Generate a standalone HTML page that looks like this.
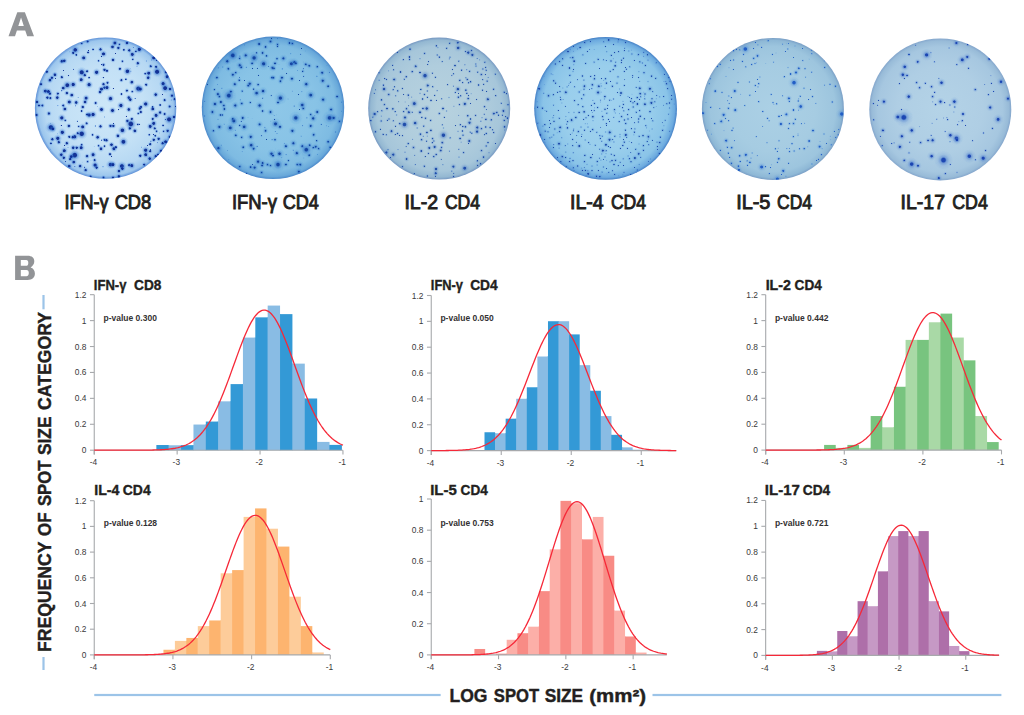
<!DOCTYPE html><html><head><meta charset="utf-8"><style>
html,body{margin:0;padding:0;background:#fff;width:1024px;height:715px;overflow:hidden}
svg{display:block}
text{font-family:"Liberation Sans", sans-serif}
.pl{font-size:33.5px;font-weight:bold;fill:#939598}
.wl{font-size:20.5px;font-weight:normal;fill:#231f20;stroke:#231f20;stroke-width:0.95px}
.ct{font-size:14px;font-weight:bold;fill:#231f20;stroke:#231f20;stroke-width:0.35px}
.pv{font-size:8.7px;font-weight:bold;fill:#333132}
.tk{font-size:8.4px;fill:#3a3a3a}
.al{font-size:17.6px;font-weight:bold;fill:#231f20;stroke:#231f20;stroke-width:0.4px}
</style></head><body><svg width="1024" height="715" viewBox="0 0 1024 715">
<defs><filter id="sb" x="-5%" y="-5%" width="110%" height="110%"><feGaussianBlur stdDeviation="0.3"/></filter><radialGradient id="wg0" cx="50%" cy="50%" r="50%"><stop offset="0" stop-color="#cce6f8"/><stop offset="0.55" stop-color="#c4e1f6"/><stop offset="0.85" stop-color="#b6d8f3"/><stop offset="0.96" stop-color="#9cc6ed"/><stop offset="1" stop-color="#5f92d8"/></radialGradient><radialGradient id="sp0"><stop offset="0" stop-color="#0a2a92" stop-opacity="0.97"/><stop offset="0.281" stop-color="#0a2a92" stop-opacity="0.95"/><stop offset="0.450" stop-color="#2f6fd0" stop-opacity="0.45"/><stop offset="0.730" stop-color="#2f6fd0" stop-opacity="0.12"/><stop offset="1" stop-color="#2f6fd0" stop-opacity="0"/></radialGradient><clipPath id="wc0"><circle cx="105.6" cy="108.1" r="70.7"/></clipPath><radialGradient id="wg1" cx="50%" cy="50%" r="50%"><stop offset="0" stop-color="#8ec7e8"/><stop offset="0.6" stop-color="#88c3e6"/><stop offset="0.88" stop-color="#7ebbe2"/><stop offset="0.965" stop-color="#68a8da"/><stop offset="1" stop-color="#4a88ca"/></radialGradient><radialGradient id="sp1"><stop offset="0" stop-color="#113f9f" stop-opacity="0.97"/><stop offset="0.170" stop-color="#113f9f" stop-opacity="0.95"/><stop offset="0.320" stop-color="#2a6fc8" stop-opacity="0.5"/><stop offset="0.600" stop-color="#2a6fc8" stop-opacity="0.12"/><stop offset="1" stop-color="#2a6fc8" stop-opacity="0"/></radialGradient><clipPath id="wc1"><circle cx="273.0" cy="107.8" r="71.2"/></clipPath><radialGradient id="wg2" cx="50%" cy="50%" r="50%"><stop offset="0" stop-color="#b7d2df"/><stop offset="0.6" stop-color="#b0cddd"/><stop offset="0.88" stop-color="#a6c6da"/><stop offset="0.965" stop-color="#94b8d2"/><stop offset="1" stop-color="#7698c2"/></radialGradient><radialGradient id="sp2"><stop offset="0" stop-color="#1a48a8" stop-opacity="0.97"/><stop offset="0.212" stop-color="#1a48a8" stop-opacity="0.95"/><stop offset="0.370" stop-color="#4a7cc8" stop-opacity="0.45"/><stop offset="0.650" stop-color="#4a7cc8" stop-opacity="0.12"/><stop offset="1" stop-color="#4a7cc8" stop-opacity="0"/></radialGradient><clipPath id="wc2"><circle cx="439.2" cy="108.6" r="71.0"/></clipPath><radialGradient id="wg3" cx="50%" cy="50%" r="50%"><stop offset="0" stop-color="#a0d2ef"/><stop offset="0.6" stop-color="#99ceec"/><stop offset="0.88" stop-color="#8ac4e8"/><stop offset="0.965" stop-color="#6caadf"/><stop offset="1" stop-color="#4480c6"/></radialGradient><radialGradient id="sp3"><stop offset="0" stop-color="#1a45a8" stop-opacity="0.97"/><stop offset="0.187" stop-color="#1a45a8" stop-opacity="0.95"/><stop offset="0.340" stop-color="#4a86d0" stop-opacity="0.45"/><stop offset="0.620" stop-color="#4a86d0" stop-opacity="0.12"/><stop offset="1" stop-color="#4a86d0" stop-opacity="0"/></radialGradient><clipPath id="wc3"><circle cx="605.6" cy="108.4" r="71.4"/></clipPath><radialGradient id="wg4" cx="50%" cy="50%" r="50%"><stop offset="0" stop-color="#abd0e5"/><stop offset="0.6" stop-color="#a6cce2"/><stop offset="0.88" stop-color="#9dc5de"/><stop offset="0.965" stop-color="#8eb8d6"/><stop offset="1" stop-color="#7a9fc6"/></radialGradient><radialGradient id="sp4"><stop offset="0" stop-color="#1d5ac4" stop-opacity="0.97"/><stop offset="0.212" stop-color="#1d5ac4" stop-opacity="0.95"/><stop offset="0.370" stop-color="#4c8ad8" stop-opacity="0.45"/><stop offset="0.650" stop-color="#4c8ad8" stop-opacity="0.12"/><stop offset="1" stop-color="#4c8ad8" stop-opacity="0"/></radialGradient><clipPath id="wc4"><circle cx="772.9" cy="108.9" r="71.0"/></clipPath><radialGradient id="wg5" cx="50%" cy="50%" r="50%"><stop offset="0" stop-color="#b4d3e7"/><stop offset="0.6" stop-color="#afcee4"/><stop offset="0.88" stop-color="#a6c7e0"/><stop offset="0.965" stop-color="#98bbd8"/><stop offset="1" stop-color="#84a6cc"/></radialGradient><radialGradient id="sp5"><stop offset="0" stop-color="#1640b0" stop-opacity="0.97"/><stop offset="0.187" stop-color="#1640b0" stop-opacity="0.95"/><stop offset="0.340" stop-color="#3f72cc" stop-opacity="0.45"/><stop offset="0.620" stop-color="#3f72cc" stop-opacity="0.12"/><stop offset="1" stop-color="#3f72cc" stop-opacity="0"/></radialGradient><clipPath id="wc5"><circle cx="940.3" cy="109.4" r="71.0"/></clipPath></defs>
<rect width="1024" height="715" fill="#ffffff"/>
<path fill="#929497" fill-rule="evenodd" d="M8.5 36.2L17.3 12.3H24.9L34 36.2H27.2L25.2 30.6H16.9L15 36.2ZM18.3 26H23.8L21.05 17.6Z"/>
<path fill="#929497" fill-rule="evenodd" d="M15.1 255.8H27.6C32 255.8 34.3 257.9 34.3 261.3C34.3 264 32.8 265.9 30.6 267.5C33.3 268.3 34.9 270.5 34.9 273.5C34.9 277.6 32.2 279.9 27.6 279.9H15.1ZM20.8 260.1H26.2C27.6 260.1 28.3 261.1 28.3 262.9C28.3 264.8 27.5 265.8 26 265.8H20.8ZM20.8 269.9H26.5C28 269.9 28.8 271.1 28.8 273C28.8 275 28 276.2 26.4 276.2H20.8Z"/>
<circle cx="105.6" cy="108.1" r="70.7" fill="url(#wg0)"/>
<g clip-path="url(#wc0)"><g filter="url(#sb)" fill="url(#sp0)"><circle cx="61.8" cy="90.8" r="1.2"/><circle cx="57.9" cy="105.7" r="1.0"/><circle cx="75.6" cy="105.9" r="1.0"/><circle cx="157.3" cy="142.8" r="0.9"/><circle cx="113.3" cy="88.5" r="1.0"/><circle cx="63.3" cy="70.5" r="0.8"/><circle cx="97.2" cy="106.6" r="0.7"/><circle cx="61.2" cy="125.5" r="1.1"/><circle cx="73.5" cy="69.2" r="0.9"/><circle cx="50.7" cy="123.2" r="0.8"/><circle cx="175.5" cy="106.2" r="1.1"/><circle cx="82.1" cy="162.1" r="0.8"/><circle cx="139.6" cy="124.2" r="1.1"/><circle cx="130.9" cy="71.7" r="0.9"/><circle cx="144.9" cy="52.0" r="0.7"/><circle cx="50.2" cy="149.7" r="0.7"/><circle cx="115.5" cy="53.5" r="0.8"/><circle cx="95.4" cy="126.0" r="1.2"/><circle cx="150.5" cy="149.3" r="0.8"/><circle cx="126.3" cy="116.3" r="1.1"/><circle cx="78.1" cy="97.4" r="0.9"/><circle cx="102.1" cy="77.7" r="0.8"/><circle cx="147.4" cy="145.6" r="0.9"/><circle cx="101.6" cy="140.1" r="1.2"/><circle cx="84.7" cy="167.2" r="1.1"/><circle cx="150.9" cy="141.2" r="1.2"/><circle cx="94.1" cy="146.6" r="0.7"/><circle cx="68.0" cy="147.3" r="0.9"/><circle cx="133.2" cy="47.4" r="0.8"/><circle cx="103.6" cy="77.7" r="1.2"/><circle cx="135.1" cy="98.5" r="1.1"/><circle cx="57.7" cy="133.9" r="0.8"/><circle cx="103.0" cy="166.8" r="1.1"/><circle cx="91.0" cy="160.2" r="0.8"/><circle cx="159.5" cy="133.0" r="0.8"/><circle cx="137.0" cy="66.2" r="1.0"/><circle cx="104.5" cy="117.0" r="0.9"/><circle cx="113.3" cy="123.5" r="0.9"/><circle cx="141.5" cy="147.1" r="0.9"/><circle cx="171.2" cy="100.0" r="1.0"/><circle cx="55.4" cy="78.7" r="0.8"/><circle cx="118.6" cy="109.6" r="1.2"/><circle cx="162.6" cy="94.5" r="0.7"/><circle cx="145.1" cy="107.9" r="0.7"/><circle cx="101.4" cy="56.5" r="1.2"/><circle cx="88.4" cy="50.5" r="1.1"/><circle cx="65.6" cy="161.8" r="1.0"/><circle cx="151.4" cy="60.0" r="0.9"/><circle cx="146.3" cy="61.0" r="1.0"/><circle cx="64.7" cy="145.4" r="1.0"/><circle cx="153.4" cy="134.5" r="1.0"/><circle cx="156.4" cy="60.3" r="1.1"/><circle cx="101.5" cy="64.7" r="1.0"/><circle cx="130.1" cy="68.6" r="0.7"/><circle cx="165.2" cy="119.4" r="1.0"/><circle cx="111.6" cy="156.3" r="1.0"/><circle cx="68.5" cy="75.6" r="1.2"/><circle cx="69.9" cy="51.9" r="0.9"/><circle cx="74.9" cy="166.6" r="1.0"/><circle cx="77.3" cy="121.2" r="1.1"/><circle cx="75.2" cy="49.9" r="4.8"/><circle cx="73.2" cy="52.9" r="2.6"/><circle cx="76.2" cy="54.9" r="2.1"/><circle cx="87.6" cy="41.5" r="2.6"/><circle cx="81.7" cy="43.5" r="2.1"/><circle cx="100.5" cy="49.4" r="3.0"/><circle cx="103.5" cy="53.9" r="3.9"/><circle cx="93.1" cy="49.4" r="1.9"/><circle cx="88.1" cy="52.4" r="2.1"/><circle cx="83.7" cy="57.9" r="3.9"/><circle cx="98.6" cy="60.8" r="1.9"/><circle cx="61.8" cy="61.3" r="3.4"/><circle cx="64.3" cy="60.8" r="3.4"/><circle cx="103.5" cy="64.8" r="2.6"/><circle cx="81.7" cy="72.3" r="5.6"/><circle cx="84.7" cy="75.2" r="3.0"/><circle cx="87.1" cy="71.3" r="2.6"/><circle cx="96.6" cy="72.3" r="4.3"/><circle cx="104.5" cy="69.8" r="3.0"/><circle cx="54.9" cy="74.7" r="3.4"/><circle cx="51.9" cy="77.7" r="3.0"/><circle cx="49.9" cy="80.2" r="3.4"/><circle cx="46.9" cy="71.8" r="2.6"/><circle cx="61.8" cy="77.2" r="2.6"/><circle cx="81.2" cy="79.7" r="3.9"/><circle cx="89.1" cy="77.7" r="1.9"/><circle cx="67.3" cy="85.2" r="5.2"/><circle cx="73.2" cy="84.5" r="4.3"/><circle cx="63.3" cy="88.1" r="3.4"/><circle cx="89.1" cy="84.7" r="4.3"/><circle cx="103.5" cy="84.2" r="3.0"/><circle cx="101.5" cy="89.1" r="3.9"/><circle cx="104.5" cy="87.6" r="3.0"/><circle cx="100.0" cy="92.1" r="3.0"/><circle cx="41.0" cy="84.2" r="2.6"/><circle cx="45.4" cy="91.1" r="3.9"/><circle cx="48.4" cy="91.6" r="3.9"/><circle cx="49.9" cy="93.6" r="3.0"/><circle cx="57.8" cy="93.6" r="2.6"/><circle cx="66.8" cy="93.1" r="3.0"/><circle cx="71.7" cy="95.1" r="3.4"/><circle cx="57.3" cy="97.6" r="3.4"/><circle cx="47.4" cy="97.6" r="3.0"/><circle cx="50.4" cy="98.1" r="2.6"/><circle cx="86.1" cy="98.1" r="3.9"/><circle cx="85.1" cy="102.0" r="3.4"/><circle cx="69.3" cy="102.0" r="3.9"/><circle cx="76.2" cy="102.5" r="3.4"/><circle cx="95.6" cy="103.0" r="2.6"/><circle cx="37.0" cy="102.0" r="3.0"/><circle cx="39.0" cy="105.5" r="2.6"/><circle cx="42.4" cy="105.5" r="2.6"/><circle cx="63.3" cy="105.5" r="2.6"/><circle cx="82.7" cy="107.0" r="3.0"/><circle cx="114.9" cy="43.0" r="3.9"/><circle cx="112.5" cy="46.9" r="3.4"/><circle cx="118.4" cy="47.9" r="3.0"/><circle cx="119.4" cy="44.4" r="2.1"/><circle cx="126.9" cy="43.0" r="3.0"/><circle cx="123.9" cy="49.9" r="2.1"/><circle cx="129.3" cy="50.4" r="3.0"/><circle cx="132.3" cy="54.4" r="3.9"/><circle cx="139.3" cy="49.4" r="4.3"/><circle cx="135.8" cy="51.4" r="2.1"/><circle cx="113.0" cy="59.8" r="3.0"/><circle cx="122.4" cy="61.3" r="2.1"/><circle cx="132.8" cy="59.3" r="1.9"/><circle cx="137.8" cy="63.3" r="3.0"/><circle cx="127.4" cy="71.3" r="4.8"/><circle cx="119.9" cy="68.8" r="2.6"/><circle cx="153.7" cy="57.9" r="3.9"/><circle cx="150.7" cy="66.3" r="2.6"/><circle cx="156.1" cy="66.8" r="2.6"/><circle cx="157.1" cy="71.8" r="5.6"/><circle cx="148.7" cy="73.2" r="3.9"/><circle cx="145.2" cy="73.7" r="2.1"/><circle cx="148.2" cy="77.7" r="3.4"/><circle cx="166.1" cy="72.3" r="3.0"/><circle cx="167.1" cy="76.7" r="3.9"/><circle cx="107.0" cy="70.8" r="2.6"/><circle cx="121.4" cy="80.2" r="2.6"/><circle cx="125.9" cy="79.2" r="1.9"/><circle cx="131.8" cy="82.2" r="3.4"/><circle cx="107.5" cy="82.7" r="2.6"/><circle cx="146.2" cy="84.7" r="2.6"/><circle cx="138.3" cy="88.6" r="5.6"/><circle cx="140.3" cy="89.1" r="3.9"/><circle cx="163.1" cy="83.7" r="4.3"/><circle cx="165.1" cy="88.1" r="5.2"/><circle cx="170.1" cy="89.1" r="3.0"/><circle cx="107.0" cy="87.6" r="3.9"/><circle cx="126.9" cy="90.6" r="2.6"/><circle cx="132.3" cy="91.6" r="2.1"/><circle cx="121.4" cy="94.1" r="2.1"/><circle cx="110.5" cy="98.6" r="4.3"/><circle cx="128.8" cy="97.6" r="3.4"/><circle cx="130.3" cy="99.6" r="3.4"/><circle cx="155.7" cy="94.6" r="3.4"/><circle cx="164.6" cy="100.1" r="2.6"/><circle cx="172.0" cy="95.6" r="3.0"/><circle cx="174.5" cy="99.1" r="2.6"/><circle cx="120.9" cy="105.5" r="4.3"/><circle cx="145.7" cy="104.0" r="4.3"/><circle cx="140.8" cy="107.0" r="3.0"/><circle cx="160.1" cy="105.0" r="2.1"/><circle cx="169.6" cy="106.5" r="2.6"/><circle cx="152.7" cy="107.0" r="2.1"/><circle cx="64.8" cy="109.0" r="3.4"/><circle cx="48.9" cy="113.5" r="3.0"/><circle cx="36.5" cy="115.0" r="3.0"/><circle cx="61.8" cy="117.9" r="4.3"/><circle cx="65.3" cy="120.4" r="2.1"/><circle cx="50.9" cy="127.4" r="6.1"/><circle cx="52.9" cy="128.9" r="3.9"/><circle cx="68.8" cy="125.9" r="3.0"/><circle cx="82.7" cy="126.9" r="3.9"/><circle cx="86.6" cy="123.4" r="2.6"/><circle cx="78.7" cy="126.4" r="1.9"/><circle cx="81.7" cy="133.8" r="6.1"/><circle cx="77.7" cy="133.3" r="2.6"/><circle cx="74.7" cy="136.8" r="4.3"/><circle cx="72.7" cy="137.3" r="3.0"/><circle cx="69.3" cy="136.8" r="2.6"/><circle cx="62.3" cy="132.3" r="4.3"/><circle cx="57.8" cy="138.3" r="4.3"/><circle cx="52.4" cy="139.3" r="3.0"/><circle cx="50.9" cy="143.3" r="2.1"/><circle cx="58.8" cy="142.3" r="3.0"/><circle cx="66.8" cy="143.3" r="3.0"/><circle cx="92.6" cy="134.8" r="2.1"/><circle cx="97.6" cy="137.3" r="3.4"/><circle cx="100.5" cy="126.4" r="3.0"/><circle cx="89.1" cy="115.0" r="4.3"/><circle cx="93.1" cy="114.5" r="4.3"/><circle cx="87.1" cy="114.5" r="2.6"/><circle cx="101.5" cy="109.5" r="3.9"/><circle cx="81.7" cy="111.0" r="2.1"/><circle cx="104.5" cy="139.8" r="2.6"/><circle cx="73.2" cy="147.7" r="3.4"/><circle cx="76.7" cy="147.7" r="3.0"/><circle cx="81.2" cy="147.7" r="3.9"/><circle cx="81.7" cy="144.7" r="2.1"/><circle cx="98.6" cy="145.7" r="2.1"/><circle cx="101.0" cy="148.7" r="3.4"/><circle cx="104.5" cy="146.2" r="2.1"/><circle cx="64.3" cy="150.7" r="3.9"/><circle cx="61.3" cy="154.7" r="3.4"/><circle cx="63.8" cy="157.7" r="3.0"/><circle cx="74.7" cy="155.2" r="6.5"/><circle cx="71.2" cy="156.7" r="3.9"/><circle cx="70.3" cy="159.1" r="3.0"/><circle cx="73.7" cy="162.1" r="3.4"/><circle cx="87.1" cy="156.2" r="3.0"/><circle cx="93.1" cy="154.7" r="3.9"/><circle cx="94.6" cy="160.1" r="2.6"/><circle cx="95.1" cy="165.1" r="4.3"/><circle cx="96.6" cy="167.6" r="3.0"/><circle cx="87.6" cy="161.6" r="2.1"/><circle cx="69.3" cy="166.1" r="3.4"/><circle cx="80.2" cy="166.1" r="3.0"/><circle cx="85.6" cy="170.1" r="3.0"/><circle cx="90.6" cy="176.5" r="2.6"/><circle cx="103.5" cy="177.5" r="2.6"/><circle cx="112.5" cy="110.5" r="3.9"/><circle cx="128.8" cy="109.5" r="3.4"/><circle cx="139.8" cy="108.5" r="3.0"/><circle cx="140.8" cy="112.0" r="2.6"/><circle cx="138.3" cy="113.5" r="2.1"/><circle cx="152.7" cy="109.0" r="3.4"/><circle cx="160.1" cy="112.5" r="3.0"/><circle cx="164.6" cy="114.0" r="2.6"/><circle cx="156.1" cy="115.4" r="3.9"/><circle cx="169.1" cy="119.4" r="5.6"/><circle cx="174.0" cy="116.9" r="3.0"/><circle cx="152.7" cy="118.9" r="2.6"/><circle cx="153.7" cy="123.4" r="3.9"/><circle cx="150.2" cy="126.4" r="3.9"/><circle cx="154.7" cy="128.4" r="2.6"/><circle cx="156.6" cy="131.3" r="2.1"/><circle cx="163.1" cy="125.4" r="1.9"/><circle cx="167.6" cy="130.8" r="3.0"/><circle cx="163.6" cy="131.3" r="1.9"/><circle cx="130.8" cy="123.9" r="6.5"/><circle cx="127.4" cy="120.9" r="3.0"/><circle cx="131.8" cy="118.9" r="2.6"/><circle cx="129.8" cy="128.4" r="3.0"/><circle cx="134.8" cy="130.8" r="3.4"/><circle cx="137.8" cy="124.4" r="1.9"/><circle cx="122.4" cy="130.3" r="4.8"/><circle cx="110.5" cy="125.9" r="3.0"/><circle cx="113.4" cy="125.9" r="3.0"/><circle cx="117.9" cy="135.8" r="3.4"/><circle cx="123.4" cy="141.8" r="5.2"/><circle cx="106.5" cy="140.3" r="3.0"/><circle cx="149.2" cy="134.8" r="1.9"/><circle cx="155.2" cy="135.8" r="2.1"/><circle cx="158.6" cy="138.8" r="3.0"/><circle cx="153.7" cy="139.8" r="3.0"/><circle cx="165.6" cy="141.8" r="3.9"/><circle cx="162.6" cy="143.3" r="3.0"/><circle cx="169.6" cy="136.8" r="2.6"/><circle cx="111.5" cy="144.7" r="3.4"/><circle cx="113.9" cy="148.7" r="3.9"/><circle cx="115.9" cy="147.2" r="2.6"/><circle cx="150.2" cy="144.2" r="2.6"/><circle cx="145.7" cy="150.2" r="4.3"/><circle cx="150.2" cy="151.2" r="2.6"/><circle cx="145.7" cy="154.7" r="3.9"/><circle cx="140.3" cy="155.7" r="3.0"/><circle cx="149.7" cy="158.6" r="3.4"/><circle cx="155.7" cy="156.2" r="3.0"/><circle cx="158.1" cy="154.7" r="2.6"/><circle cx="161.1" cy="150.7" r="3.0"/><circle cx="110.0" cy="154.2" r="2.6"/><circle cx="110.5" cy="164.6" r="4.8"/><circle cx="113.0" cy="164.6" r="3.9"/><circle cx="121.9" cy="166.1" r="5.2"/><circle cx="122.4" cy="168.6" r="3.4"/><circle cx="118.9" cy="171.1" r="3.0"/><circle cx="129.3" cy="165.1" r="3.0"/><circle cx="131.8" cy="165.6" r="3.9"/><circle cx="144.2" cy="164.6" r="2.6"/><circle cx="118.9" cy="176.5" r="3.4"/><circle cx="113.0" cy="177.5" r="2.6"/></g></g>
<circle cx="273.0" cy="107.8" r="71.2" fill="url(#wg1)"/>
<g clip-path="url(#wc1)"><g filter="url(#sb)" fill="url(#sp1)"><circle cx="246.3" cy="67.2" r="1.2"/><circle cx="299.6" cy="109.6" r="1.0"/><circle cx="286.7" cy="73.5" r="1.2"/><circle cx="221.9" cy="88.3" r="1.2"/><circle cx="248.0" cy="117.7" r="0.8"/><circle cx="335.6" cy="132.0" r="1.3"/><circle cx="297.6" cy="70.3" r="0.7"/><circle cx="288.0" cy="99.0" r="1.1"/><circle cx="294.2" cy="106.1" r="1.4"/><circle cx="252.1" cy="118.8" r="0.8"/><circle cx="244.5" cy="80.6" r="0.8"/><circle cx="328.8" cy="126.5" r="0.8"/><circle cx="221.4" cy="145.1" r="1.0"/><circle cx="271.2" cy="95.6" r="1.4"/><circle cx="237.0" cy="48.2" r="0.9"/><circle cx="257.4" cy="68.3" r="1.2"/><circle cx="275.2" cy="131.5" r="1.0"/><circle cx="281.8" cy="157.8" r="1.0"/><circle cx="279.0" cy="64.3" r="0.8"/><circle cx="270.8" cy="121.1" r="0.9"/><circle cx="326.3" cy="125.9" r="1.0"/><circle cx="266.6" cy="139.4" r="1.0"/><circle cx="204.5" cy="116.0" r="1.4"/><circle cx="298.6" cy="94.6" r="1.0"/><circle cx="275.2" cy="149.0" r="0.7"/><circle cx="262.7" cy="98.2" r="1.4"/><circle cx="202.6" cy="106.2" r="0.7"/><circle cx="282.3" cy="68.9" r="1.3"/><circle cx="239.0" cy="72.9" r="0.9"/><circle cx="327.0" cy="65.5" r="0.8"/><circle cx="299.6" cy="80.6" r="0.9"/><circle cx="204.8" cy="101.3" r="1.2"/><circle cx="258.5" cy="75.3" r="1.2"/><circle cx="292.3" cy="91.1" r="1.0"/><circle cx="241.2" cy="121.5" r="1.4"/><circle cx="277.5" cy="38.8" r="1.0"/><circle cx="316.9" cy="76.3" r="1.3"/><circle cx="242.1" cy="151.7" r="1.0"/><circle cx="217.3" cy="84.4" r="0.7"/><circle cx="329.5" cy="72.2" r="1.1"/><circle cx="227.5" cy="150.8" r="0.8"/><circle cx="257.1" cy="146.5" r="1.4"/><circle cx="274.2" cy="152.0" r="1.0"/><circle cx="257.1" cy="71.0" r="0.8"/><circle cx="264.9" cy="127.4" r="1.2"/><circle cx="239.9" cy="56.1" r="1.4"/><circle cx="314.9" cy="115.7" r="1.0"/><circle cx="293.2" cy="150.2" r="1.2"/><circle cx="341.4" cy="111.1" r="1.0"/><circle cx="284.2" cy="143.3" r="1.0"/><circle cx="301.9" cy="91.7" r="1.1"/><circle cx="303.8" cy="158.0" r="1.0"/><circle cx="303.2" cy="62.0" r="0.9"/><circle cx="240.3" cy="99.9" r="1.2"/><circle cx="252.5" cy="68.5" r="1.2"/><circle cx="207.4" cy="84.7" r="1.2"/><circle cx="268.4" cy="66.3" r="0.9"/><circle cx="241.0" cy="146.0" r="0.9"/><circle cx="277.0" cy="133.5" r="1.1"/><circle cx="306.9" cy="117.9" r="1.3"/><circle cx="303.7" cy="76.3" r="1.3"/><circle cx="301.1" cy="136.2" r="1.1"/><circle cx="222.8" cy="67.0" r="1.2"/><circle cx="239.6" cy="77.3" r="0.9"/><circle cx="272.1" cy="139.7" r="1.4"/><circle cx="321.2" cy="124.4" r="1.3"/><circle cx="301.5" cy="48.4" r="1.0"/><circle cx="252.4" cy="164.6" r="0.8"/><circle cx="305.7" cy="51.0" r="0.8"/><circle cx="338.3" cy="118.0" r="0.9"/><circle cx="276.8" cy="114.9" r="0.8"/><circle cx="255.8" cy="164.9" r="0.8"/><circle cx="261.5" cy="135.8" r="1.3"/><circle cx="224.1" cy="124.2" r="1.1"/><circle cx="290.8" cy="53.8" r="1.1"/><circle cx="218.0" cy="119.3" r="1.1"/><circle cx="235.2" cy="130.2" r="1.1"/><circle cx="303.4" cy="68.8" r="1.2"/><circle cx="244.6" cy="45.0" r="1.0"/><circle cx="317.4" cy="154.7" r="0.7"/><circle cx="273.0" cy="114.3" r="0.8"/><circle cx="271.6" cy="38.7" r="1.4"/><circle cx="274.6" cy="119.5" r="1.3"/><circle cx="286.1" cy="154.6" r="1.2"/><circle cx="302.6" cy="125.8" r="1.1"/><circle cx="341.6" cy="102.1" r="1.2"/><circle cx="228.9" cy="159.7" r="0.9"/><circle cx="218.2" cy="67.9" r="1.2"/><circle cx="274.1" cy="115.6" r="1.0"/><circle cx="300.6" cy="54.2" r="1.2"/><circle cx="232.8" cy="55.4" r="8.0"/><circle cx="227.3" cy="61.3" r="4.6"/><circle cx="245.7" cy="55.4" r="4.2"/><circle cx="254.1" cy="57.9" r="7.0"/><circle cx="263.6" cy="63.8" r="6.6"/><circle cx="259.1" cy="44.0" r="3.7"/><circle cx="270.5" cy="41.5" r="3.7"/><circle cx="265.6" cy="46.9" r="3.2"/><circle cx="262.6" cy="52.9" r="3.2"/><circle cx="256.6" cy="52.9" r="2.2"/><circle cx="266.5" cy="55.9" r="2.7"/><circle cx="239.7" cy="58.4" r="2.7"/><circle cx="252.1" cy="63.3" r="3.2"/><circle cx="239.7" cy="65.3" r="4.2"/><circle cx="241.2" cy="67.3" r="3.2"/><circle cx="228.3" cy="68.8" r="3.2"/><circle cx="232.8" cy="74.7" r="3.7"/><circle cx="235.8" cy="72.7" r="2.7"/><circle cx="216.9" cy="77.7" r="3.2"/><circle cx="239.2" cy="80.2" r="2.7"/><circle cx="234.8" cy="84.2" r="3.7"/><circle cx="249.7" cy="83.7" r="4.2"/><circle cx="248.2" cy="85.7" r="3.2"/><circle cx="258.1" cy="84.7" r="2.7"/><circle cx="272.5" cy="67.8" r="4.2"/><circle cx="272.0" cy="77.7" r="3.2"/><circle cx="228.8" cy="95.6" r="8.0"/><circle cx="230.8" cy="91.6" r="3.7"/><circle cx="217.9" cy="94.1" r="3.7"/><circle cx="219.4" cy="96.6" r="3.2"/><circle cx="214.4" cy="89.6" r="2.2"/><circle cx="214.9" cy="104.0" r="4.2"/><circle cx="220.9" cy="102.0" r="3.7"/><circle cx="223.8" cy="105.5" r="3.2"/><circle cx="235.3" cy="105.5" r="4.2"/><circle cx="241.7" cy="103.5" r="3.2"/><circle cx="256.6" cy="93.1" r="5.1"/><circle cx="263.1" cy="91.1" r="4.6"/><circle cx="259.6" cy="105.5" r="4.6"/><circle cx="242.2" cy="91.1" r="2.2"/><circle cx="253.6" cy="89.1" r="2.2"/><circle cx="250.2" cy="102.5" r="2.2"/><circle cx="289.4" cy="43.0" r="3.2"/><circle cx="292.4" cy="43.5" r="3.2"/><circle cx="277.5" cy="44.4" r="2.7"/><circle cx="277.5" cy="46.4" r="2.2"/><circle cx="283.4" cy="58.4" r="4.2"/><circle cx="277.0" cy="58.8" r="2.7"/><circle cx="275.0" cy="63.3" r="3.2"/><circle cx="291.4" cy="63.8" r="6.1"/><circle cx="294.4" cy="62.3" r="4.6"/><circle cx="295.8" cy="63.3" r="3.7"/><circle cx="305.8" cy="64.3" r="3.2"/><circle cx="309.2" cy="65.8" r="3.2"/><circle cx="317.2" cy="66.8" r="2.7"/><circle cx="302.8" cy="71.3" r="2.2"/><circle cx="322.2" cy="72.7" r="3.7"/><circle cx="322.7" cy="80.7" r="4.2"/><circle cx="328.1" cy="86.2" r="3.2"/><circle cx="281.9" cy="77.7" r="3.7"/><circle cx="280.4" cy="81.2" r="3.2"/><circle cx="291.9" cy="78.7" r="3.7"/><circle cx="306.3" cy="84.2" r="4.6"/><circle cx="273.5" cy="77.7" r="3.2"/><circle cx="310.7" cy="95.1" r="5.6"/><circle cx="280.4" cy="98.1" r="6.6"/><circle cx="278.0" cy="102.5" r="3.2"/><circle cx="302.3" cy="105.0" r="5.1"/><circle cx="323.1" cy="99.6" r="4.2"/><circle cx="337.1" cy="96.6" r="3.2"/><circle cx="274.0" cy="68.3" r="2.7"/><circle cx="212.4" cy="112.0" r="3.7"/><circle cx="224.3" cy="109.0" r="3.2"/><circle cx="220.4" cy="115.0" r="2.7"/><circle cx="222.4" cy="115.0" r="2.2"/><circle cx="233.8" cy="120.9" r="6.1"/><circle cx="232.8" cy="118.9" r="3.2"/><circle cx="242.7" cy="117.9" r="3.7"/><circle cx="230.3" cy="127.9" r="5.6"/><circle cx="219.4" cy="126.9" r="4.2"/><circle cx="213.4" cy="130.8" r="2.7"/><circle cx="244.2" cy="126.9" r="5.1"/><circle cx="239.7" cy="125.4" r="2.2"/><circle cx="259.6" cy="124.4" r="3.7"/><circle cx="270.5" cy="112.0" r="3.7"/><circle cx="262.6" cy="111.0" r="2.7"/><circle cx="265.6" cy="130.8" r="3.2"/><circle cx="235.8" cy="135.3" r="3.2"/><circle cx="241.7" cy="137.3" r="2.7"/><circle cx="250.7" cy="136.8" r="4.2"/><circle cx="251.2" cy="145.2" r="5.1"/><circle cx="253.6" cy="148.7" r="3.7"/><circle cx="243.2" cy="147.2" r="3.2"/><circle cx="218.4" cy="148.2" r="4.6"/><circle cx="271.5" cy="153.7" r="4.6"/><circle cx="258.1" cy="161.6" r="4.6"/><circle cx="262.6" cy="163.1" r="3.7"/><circle cx="262.1" cy="165.6" r="3.2"/><circle cx="267.5" cy="164.6" r="3.2"/><circle cx="270.5" cy="165.6" r="2.7"/><circle cx="254.6" cy="167.6" r="4.2"/><circle cx="250.7" cy="167.1" r="3.2"/><circle cx="239.7" cy="166.6" r="3.2"/><circle cx="261.6" cy="172.5" r="3.2"/><circle cx="246.7" cy="173.5" r="2.2"/><circle cx="295.8" cy="117.9" r="7.0"/><circle cx="303.3" cy="108.5" r="3.2"/><circle cx="317.2" cy="112.0" r="3.7"/><circle cx="331.1" cy="109.5" r="3.7"/><circle cx="310.7" cy="114.5" r="2.7"/><circle cx="313.2" cy="118.4" r="4.6"/><circle cx="329.6" cy="117.9" r="7.5"/><circle cx="333.6" cy="117.9" r="4.6"/><circle cx="339.5" cy="121.4" r="3.2"/><circle cx="275.5" cy="123.9" r="6.1"/><circle cx="280.0" cy="126.9" r="3.7"/><circle cx="292.4" cy="130.8" r="4.2"/><circle cx="310.7" cy="125.9" r="3.7"/><circle cx="313.7" cy="134.8" r="3.2"/><circle cx="328.1" cy="141.8" r="3.2"/><circle cx="293.4" cy="143.3" r="4.2"/><circle cx="285.9" cy="146.2" r="3.7"/><circle cx="275.0" cy="139.8" r="2.7"/><circle cx="302.3" cy="146.2" r="3.7"/><circle cx="306.3" cy="149.7" r="7.5"/><circle cx="309.7" cy="145.2" r="3.2"/><circle cx="315.7" cy="146.7" r="3.7"/><circle cx="313.2" cy="147.7" r="2.7"/><circle cx="309.2" cy="155.2" r="3.2"/><circle cx="296.8" cy="153.2" r="4.2"/><circle cx="279.5" cy="153.7" r="5.1"/><circle cx="273.0" cy="155.7" r="3.2"/><circle cx="278.0" cy="164.6" r="7.5"/><circle cx="285.9" cy="164.6" r="3.2"/><circle cx="297.3" cy="164.6" r="3.2"/><circle cx="300.3" cy="164.6" r="3.7"/><circle cx="298.8" cy="171.6" r="3.7"/><circle cx="288.4" cy="160.6" r="2.2"/><circle cx="316.7" cy="140.8" r="2.2"/><circle cx="318.7" cy="148.7" r="2.7"/><circle cx="330.1" cy="147.2" r="2.7"/></g></g>
<circle cx="439.2" cy="108.6" r="71.0" fill="url(#wg2)"/>
<g clip-path="url(#wc2)"><g filter="url(#sb)" fill="url(#sp2)"><circle cx="425.0" cy="75.7" r="5.9"/><circle cx="464.7" cy="168.2" r="5.0"/><circle cx="443.4" cy="135.2" r="6.0"/><circle cx="414.3" cy="103.6" r="4.9"/><circle cx="404.5" cy="124.5" r="6.2"/><circle cx="493.8" cy="113.6" r="3.0"/><circle cx="457.8" cy="89.1" r="3.9"/><circle cx="468.3" cy="52.6" r="3.8"/><circle cx="457.8" cy="42.7" r="2.9"/><circle cx="374.6" cy="114.0" r="3.8"/><circle cx="391.5" cy="131.2" r="3.1"/><circle cx="421.2" cy="151.0" r="2.7"/><circle cx="458.2" cy="47.9" r="4.2"/><circle cx="384.1" cy="89.1" r="3.8"/><circle cx="427.7" cy="85.5" r="3.3"/><circle cx="405.0" cy="117.5" r="3.5"/><circle cx="469.3" cy="141.0" r="3.3"/><circle cx="442.3" cy="142.6" r="2.8"/><circle cx="477.3" cy="127.5" r="3.6"/><circle cx="386.4" cy="152.5" r="3.7"/><circle cx="504.6" cy="126.8" r="2.7"/><circle cx="472.4" cy="54.9" r="3.6"/><circle cx="415.2" cy="123.1" r="4.0"/><circle cx="393.3" cy="154.6" r="3.7"/><circle cx="464.8" cy="103.9" r="3.5"/><circle cx="453.4" cy="166.6" r="3.5"/><circle cx="394.2" cy="79.5" r="3.1"/><circle cx="406.6" cy="159.0" r="3.0"/><circle cx="469.5" cy="122.7" r="3.6"/><circle cx="388.7" cy="94.5" r="2.6"/><circle cx="413.5" cy="147.5" r="2.7"/><circle cx="443.0" cy="108.5" r="2.7"/><circle cx="434.6" cy="146.9" r="3.5"/><circle cx="420.0" cy="112.3" r="3.1"/><circle cx="503.4" cy="110.9" r="3.1"/><circle cx="487.8" cy="99.3" r="3.4"/><circle cx="415.7" cy="66.3" r="3.0"/><circle cx="426.7" cy="108.5" r="4.0"/><circle cx="436.0" cy="168.9" r="3.7"/><circle cx="435.7" cy="173.3" r="3.5"/><circle cx="440.7" cy="150.5" r="3.0"/><circle cx="420.4" cy="134.2" r="2.6"/><circle cx="477.1" cy="131.6" r="3.8"/><circle cx="408.8" cy="112.3" r="3.4"/><circle cx="429.3" cy="147.9" r="3.2"/><circle cx="451.8" cy="171.1" r="1.5"/><circle cx="482.0" cy="117.7" r="1.3"/><circle cx="399.8" cy="123.7" r="2.3"/><circle cx="447.6" cy="84.7" r="1.6"/><circle cx="375.5" cy="89.9" r="1.3"/><circle cx="439.3" cy="113.5" r="2.3"/><circle cx="412.2" cy="112.2" r="1.6"/><circle cx="452.4" cy="69.5" r="1.4"/><circle cx="409.4" cy="57.0" r="2.4"/><circle cx="483.7" cy="84.3" r="1.7"/><circle cx="400.5" cy="72.0" r="2.3"/><circle cx="489.0" cy="152.8" r="1.3"/><circle cx="458.8" cy="61.1" r="1.8"/><circle cx="476.6" cy="99.5" r="1.5"/><circle cx="458.8" cy="115.3" r="1.1"/><circle cx="486.1" cy="146.0" r="2.1"/><circle cx="406.2" cy="76.8" r="2.3"/><circle cx="424.3" cy="166.2" r="2.2"/><circle cx="430.9" cy="130.3" r="2.5"/><circle cx="433.8" cy="156.6" r="2.2"/><circle cx="486.3" cy="109.7" r="1.1"/><circle cx="421.6" cy="139.7" r="2.4"/><circle cx="459.8" cy="80.3" r="2.3"/><circle cx="484.5" cy="106.7" r="2.2"/><circle cx="374.2" cy="93.3" r="1.4"/><circle cx="396.6" cy="115.0" r="1.4"/><circle cx="491.2" cy="119.9" r="2.2"/><circle cx="462.9" cy="126.5" r="1.9"/><circle cx="468.5" cy="82.9" r="1.8"/><circle cx="464.9" cy="64.8" r="1.4"/><circle cx="403.2" cy="59.7" r="1.7"/><circle cx="507.4" cy="118.1" r="2.3"/><circle cx="453.4" cy="86.1" r="1.3"/><circle cx="422.9" cy="108.5" r="2.4"/><circle cx="403.7" cy="111.6" r="2.0"/><circle cx="405.1" cy="102.0" r="1.1"/><circle cx="442.1" cy="61.6" r="1.6"/><circle cx="470.5" cy="119.0" r="2.1"/><circle cx="478.6" cy="85.0" r="2.1"/><circle cx="458.3" cy="97.2" r="2.4"/><circle cx="463.0" cy="135.1" r="2.1"/><circle cx="490.1" cy="127.5" r="2.0"/><circle cx="384.4" cy="104.6" r="2.2"/><circle cx="394.5" cy="86.9" r="1.7"/><circle cx="375.4" cy="131.8" r="2.4"/><circle cx="420.0" cy="72.5" r="2.4"/><circle cx="398.0" cy="149.6" r="1.2"/><circle cx="397.5" cy="133.5" r="2.2"/><circle cx="501.2" cy="103.2" r="1.7"/><circle cx="397.8" cy="90.9" r="2.1"/><circle cx="443.5" cy="128.0" r="1.3"/><circle cx="468.5" cy="95.6" r="1.5"/><circle cx="470.5" cy="103.5" r="1.2"/><circle cx="455.5" cy="125.7" r="1.2"/><circle cx="449.4" cy="151.1" r="1.3"/><circle cx="436.4" cy="100.3" r="1.2"/><circle cx="408.2" cy="95.1" r="2.3"/><circle cx="424.6" cy="53.4" r="2.1"/><circle cx="477.1" cy="58.5" r="1.3"/><circle cx="427.4" cy="97.3" r="1.8"/><circle cx="449.3" cy="58.9" r="1.3"/><circle cx="386.3" cy="134.9" r="1.7"/><circle cx="432.3" cy="142.7" r="1.9"/><circle cx="482.8" cy="79.7" r="1.5"/><circle cx="488.0" cy="142.6" r="2.0"/><circle cx="451.9" cy="75.5" r="1.4"/><circle cx="470.2" cy="132.1" r="1.7"/><circle cx="432.8" cy="86.8" r="1.9"/><circle cx="427.8" cy="64.5" r="1.4"/><circle cx="412.7" cy="139.2" r="1.1"/><circle cx="495.5" cy="143.5" r="1.2"/><circle cx="465.4" cy="51.5" r="1.7"/><circle cx="468.5" cy="143.6" r="1.1"/><circle cx="441.2" cy="159.3" r="1.3"/><circle cx="505.6" cy="116.7" r="1.6"/><circle cx="437.9" cy="47.7" r="1.2"/><circle cx="383.4" cy="85.1" r="2.0"/><circle cx="377.6" cy="111.8" r="1.9"/><circle cx="392.7" cy="65.3" r="1.6"/><circle cx="441.7" cy="98.9" r="1.6"/><circle cx="428.4" cy="153.4" r="1.9"/><circle cx="461.6" cy="70.1" r="1.9"/><circle cx="450.0" cy="57.2" r="1.7"/><circle cx="439.3" cy="57.1" r="2.1"/><circle cx="486.1" cy="70.2" r="1.9"/><circle cx="459.0" cy="157.1" r="1.4"/><circle cx="392.9" cy="108.9" r="2.4"/><circle cx="430.7" cy="120.4" r="2.1"/><circle cx="466.8" cy="69.8" r="1.3"/><circle cx="383.1" cy="134.4" r="1.9"/><circle cx="425.5" cy="118.2" r="2.2"/><circle cx="434.8" cy="95.4" r="1.7"/><circle cx="393.6" cy="69.9" r="1.7"/><circle cx="483.6" cy="157.1" r="2.4"/><circle cx="459.4" cy="104.6" r="1.9"/><circle cx="482.5" cy="90.1" r="1.8"/><circle cx="485.8" cy="127.0" r="2.2"/><circle cx="442.9" cy="164.7" r="1.3"/><circle cx="485.9" cy="119.3" r="2.3"/><circle cx="435.4" cy="77.2" r="1.8"/><circle cx="480.6" cy="163.8" r="2.2"/><circle cx="498.5" cy="115.1" r="1.9"/><circle cx="381.9" cy="110.8" r="1.9"/><circle cx="493.8" cy="132.6" r="1.8"/><circle cx="411.7" cy="97.1" r="1.2"/><circle cx="431.0" cy="100.4" r="2.1"/><circle cx="410.0" cy="49.1" r="2.5"/><circle cx="420.9" cy="89.4" r="2.0"/><circle cx="458.0" cy="131.3" r="1.4"/><circle cx="486.2" cy="133.5" r="2.1"/><circle cx="463.6" cy="152.6" r="2.0"/><circle cx="426.6" cy="141.1" r="1.7"/><circle cx="432.4" cy="73.1" r="1.7"/><circle cx="433.9" cy="141.0" r="1.9"/><circle cx="388.6" cy="70.9" r="1.1"/><circle cx="384.8" cy="78.6" r="1.7"/><circle cx="481.4" cy="128.7" r="2.3"/><circle cx="423.8" cy="126.1" r="2.0"/><circle cx="485.3" cy="74.6" r="1.3"/><circle cx="477.7" cy="72.1" r="1.8"/><circle cx="381.1" cy="121.0" r="2.1"/><circle cx="402.4" cy="166.7" r="2.1"/><circle cx="470.6" cy="81.8" r="2.2"/><circle cx="484.9" cy="62.2" r="1.9"/><circle cx="477.6" cy="165.4" r="1.9"/><circle cx="422.6" cy="99.0" r="2.1"/><circle cx="453.5" cy="73.9" r="1.7"/><circle cx="450.1" cy="137.9" r="1.9"/><circle cx="480.9" cy="121.2" r="1.5"/><circle cx="370.9" cy="120.6" r="2.1"/><circle cx="462.4" cy="131.0" r="2.0"/><circle cx="496.8" cy="112.5" r="2.4"/><circle cx="444.3" cy="117.3" r="1.6"/><circle cx="436.3" cy="45.9" r="2.1"/><circle cx="504.7" cy="130.0" r="1.3"/><circle cx="446.7" cy="48.2" r="2.0"/><circle cx="462.7" cy="82.6" r="1.8"/><circle cx="465.4" cy="126.8" r="2.5"/><circle cx="442.3" cy="124.9" r="1.6"/><circle cx="471.5" cy="50.5" r="2.3"/><circle cx="468.2" cy="98.6" r="2.5"/><circle cx="437.1" cy="90.7" r="1.4"/><circle cx="455.2" cy="92.5" r="1.7"/><circle cx="403.7" cy="94.5" r="1.2"/><circle cx="412.2" cy="71.7" r="2.3"/><circle cx="458.5" cy="93.4" r="1.2"/><circle cx="423.2" cy="136.2" r="1.3"/><circle cx="427.3" cy="91.0" r="1.7"/><circle cx="408.7" cy="105.8" r="1.3"/><circle cx="495.8" cy="95.7" r="1.8"/><circle cx="402.5" cy="135.7" r="1.6"/><circle cx="458.9" cy="149.3" r="1.5"/><circle cx="381.3" cy="116.1" r="1.2"/><circle cx="402.4" cy="88.5" r="1.7"/><circle cx="486.7" cy="91.4" r="1.3"/><circle cx="465.9" cy="90.1" r="2.4"/><circle cx="479.7" cy="59.9" r="1.2"/><circle cx="481.5" cy="150.6" r="2.3"/><circle cx="395.1" cy="111.6" r="1.8"/><circle cx="395.5" cy="126.2" r="1.6"/><circle cx="432.6" cy="138.6" r="2.3"/><circle cx="390.5" cy="157.5" r="1.5"/><circle cx="465.9" cy="77.8" r="1.5"/><circle cx="427.2" cy="136.1" r="1.2"/><circle cx="435.4" cy="176.2" r="1.5"/><circle cx="387.3" cy="120.3" r="1.6"/><circle cx="484.2" cy="114.2" r="1.5"/><circle cx="502.4" cy="115.1" r="1.7"/><circle cx="506.5" cy="93.8" r="1.6"/><circle cx="404.2" cy="79.2" r="1.7"/><circle cx="380.4" cy="129.2" r="1.5"/><circle cx="379.1" cy="80.2" r="1.5"/><circle cx="372.9" cy="117.1" r="1.9"/><circle cx="469.6" cy="71.3" r="2.1"/><circle cx="408.2" cy="143.6" r="2.2"/><circle cx="395.2" cy="134.6" r="1.5"/><circle cx="460.1" cy="138.5" r="2.4"/><circle cx="484.4" cy="134.8" r="1.4"/><circle cx="455.0" cy="65.6" r="2.3"/><circle cx="504.2" cy="92.2" r="2.2"/><circle cx="467.3" cy="79.5" r="2.4"/><circle cx="421.9" cy="117.4" r="1.9"/><circle cx="441.5" cy="147.4" r="2.2"/><circle cx="408.8" cy="98.0" r="1.1"/><circle cx="425.2" cy="156.6" r="1.5"/><circle cx="386.5" cy="79.5" r="1.7"/><circle cx="495.3" cy="74.1" r="1.8"/><circle cx="485.7" cy="67.4" r="1.8"/><circle cx="460.3" cy="124.8" r="2.0"/><circle cx="398.7" cy="101.8" r="1.2"/><circle cx="427.3" cy="176.0" r="2.0"/><circle cx="405.0" cy="152.2" r="1.4"/><circle cx="414.8" cy="155.3" r="1.2"/><circle cx="467.8" cy="115.8" r="2.4"/><circle cx="466.9" cy="93.3" r="2.0"/><circle cx="424.4" cy="94.5" r="2.1"/><circle cx="488.1" cy="77.5" r="1.2"/><circle cx="471.1" cy="93.8" r="1.1"/><circle cx="417.2" cy="128.0" r="1.6"/><circle cx="399.5" cy="135.4" r="1.4"/><circle cx="477.3" cy="160.9" r="2.0"/><circle cx="426.9" cy="132.5" r="2.5"/><circle cx="471.9" cy="133.2" r="1.9"/><circle cx="406.1" cy="146.5" r="1.4"/><circle cx="437.2" cy="55.0" r="1.8"/><circle cx="379.0" cy="72.9" r="2.1"/><circle cx="461.1" cy="142.1" r="1.2"/><circle cx="487.1" cy="81.1" r="2.1"/><circle cx="475.8" cy="64.0" r="1.7"/><circle cx="436.2" cy="154.5" r="2.3"/><circle cx="381.5" cy="99.9" r="2.2"/><circle cx="428.5" cy="61.7" r="1.4"/><circle cx="492.6" cy="129.9" r="1.7"/><circle cx="476.0" cy="66.1" r="1.8"/><circle cx="409.6" cy="59.5" r="2.0"/><circle cx="449.7" cy="43.2" r="2.0"/><circle cx="415.2" cy="164.7" r="1.3"/><circle cx="389.0" cy="119.0" r="2.0"/><circle cx="388.0" cy="149.7" r="1.6"/><circle cx="482.9" cy="69.0" r="1.9"/><circle cx="481.3" cy="74.5" r="2.4"/><circle cx="453.9" cy="106.2" r="1.2"/><circle cx="387.0" cy="108.6" r="2.5"/><circle cx="393.3" cy="120.9" r="1.7"/><circle cx="475.6" cy="115.4" r="1.9"/><circle cx="406.5" cy="108.7" r="2.5"/><circle cx="414.2" cy="173.7" r="1.6"/><circle cx="420.0" cy="93.3" r="1.4"/><circle cx="460.7" cy="95.9" r="1.9"/><circle cx="453.8" cy="173.3" r="1.3"/><circle cx="420.0" cy="58.7" r="1.3"/><circle cx="393.1" cy="89.7" r="1.8"/><circle cx="504.2" cy="120.4" r="2.2"/><circle cx="446.6" cy="111.0" r="1.4"/><circle cx="449.0" cy="97.5" r="1.3"/><circle cx="493.6" cy="89.2" r="2.1"/><circle cx="397.3" cy="52.4" r="1.6"/><circle cx="453.6" cy="176.4" r="1.9"/><circle cx="395.7" cy="95.9" r="1.5"/><circle cx="508.0" cy="104.8" r="2.1"/></g></g>
<circle cx="605.6" cy="108.4" r="71.4" fill="url(#wg3)"/>
<g clip-path="url(#wc3)"><g filter="url(#sb)" fill="url(#sp3)"><circle cx="598.8" cy="86.3" r="3.4"/><circle cx="596.5" cy="176.3" r="2.8"/><circle cx="572.7" cy="57.6" r="2.9"/><circle cx="559.0" cy="143.7" r="3.6"/><circle cx="609.7" cy="132.4" r="3.8"/><circle cx="602.8" cy="150.6" r="3.7"/><circle cx="638.7" cy="153.8" r="3.3"/><circle cx="634.9" cy="158.0" r="3.4"/><circle cx="592.7" cy="129.6" r="2.5"/><circle cx="637.3" cy="104.0" r="3.0"/><circle cx="540.4" cy="134.9" r="3.4"/><circle cx="580.1" cy="47.5" r="2.6"/><circle cx="569.4" cy="68.0" r="2.7"/><circle cx="621.0" cy="93.0" r="3.2"/><circle cx="575.8" cy="117.5" r="2.7"/><circle cx="542.4" cy="108.2" r="2.6"/><circle cx="659.7" cy="142.5" r="2.8"/><circle cx="604.9" cy="96.6" r="2.6"/><circle cx="648.4" cy="136.7" r="3.2"/><circle cx="548.5" cy="95.7" r="3.1"/><circle cx="560.2" cy="127.4" r="3.4"/><circle cx="584.1" cy="111.9" r="2.8"/><circle cx="666.6" cy="83.8" r="2.5"/><circle cx="579.2" cy="146.0" r="3.3"/><circle cx="599.8" cy="176.7" r="2.9"/><circle cx="584.4" cy="86.2" r="3.2"/><circle cx="578.3" cy="131.6" r="2.5"/><circle cx="644.9" cy="104.2" r="3.3"/><circle cx="640.2" cy="93.7" r="3.0"/><circle cx="640.2" cy="116.2" r="2.6"/><circle cx="609.5" cy="139.7" r="3.8"/><circle cx="605.9" cy="144.8" r="3.4"/><circle cx="588.2" cy="173.8" r="3.6"/><circle cx="565.8" cy="92.3" r="3.4"/><circle cx="608.7" cy="39.9" r="3.2"/><circle cx="562.3" cy="156.6" r="3.0"/><circle cx="539.2" cy="88.7" r="3.6"/><circle cx="639.8" cy="88.3" r="3.4"/><circle cx="594.4" cy="78.8" r="2.6"/><circle cx="571.6" cy="120.1" r="3.3"/><circle cx="615.1" cy="65.9" r="2.8"/><circle cx="567.4" cy="127.9" r="2.6"/><circle cx="625.8" cy="134.9" r="3.6"/><circle cx="592.3" cy="84.8" r="2.8"/><circle cx="574.1" cy="61.1" r="3.0"/><circle cx="567.9" cy="51.5" r="3.3"/><circle cx="592.9" cy="116.8" r="2.8"/><circle cx="649.9" cy="88.7" r="3.8"/><circle cx="598.1" cy="92.5" r="3.9"/><circle cx="651.4" cy="102.8" r="3.8"/><circle cx="664.0" cy="81.5" r="1.1"/><circle cx="584.2" cy="167.6" r="1.2"/><circle cx="568.7" cy="85.3" r="1.0"/><circle cx="615.7" cy="62.1" r="1.7"/><circle cx="590.9" cy="157.6" r="2.4"/><circle cx="590.8" cy="76.4" r="1.9"/><circle cx="607.3" cy="108.4" r="1.3"/><circle cx="668.9" cy="77.8" r="2.3"/><circle cx="553.3" cy="147.6" r="1.6"/><circle cx="643.8" cy="92.1" r="1.0"/><circle cx="630.8" cy="101.3" r="2.1"/><circle cx="663.8" cy="96.5" r="1.7"/><circle cx="545.1" cy="131.1" r="2.3"/><circle cx="588.3" cy="115.5" r="1.8"/><circle cx="549.9" cy="137.9" r="2.0"/><circle cx="544.9" cy="142.3" r="1.3"/><circle cx="613.5" cy="99.0" r="1.7"/><circle cx="561.9" cy="103.0" r="1.2"/><circle cx="607.0" cy="173.9" r="1.1"/><circle cx="544.2" cy="84.8" r="1.0"/><circle cx="582.9" cy="54.9" r="1.9"/><circle cx="562.5" cy="65.3" r="2.0"/><circle cx="584.5" cy="130.1" r="2.0"/><circle cx="570.5" cy="82.1" r="1.7"/><circle cx="570.0" cy="158.4" r="1.7"/><circle cx="581.7" cy="168.1" r="1.2"/><circle cx="643.4" cy="150.3" r="2.2"/><circle cx="636.1" cy="87.4" r="1.7"/><circle cx="578.1" cy="104.7" r="2.0"/><circle cx="573.0" cy="71.4" r="1.5"/><circle cx="637.2" cy="170.0" r="2.1"/><circle cx="594.7" cy="107.9" r="1.1"/><circle cx="583.8" cy="94.9" r="2.3"/><circle cx="573.4" cy="130.9" r="1.7"/><circle cx="573.2" cy="152.8" r="1.5"/><circle cx="669.5" cy="108.0" r="1.6"/><circle cx="602.6" cy="116.6" r="2.3"/><circle cx="614.9" cy="136.2" r="2.1"/><circle cx="619.6" cy="89.0" r="1.3"/><circle cx="569.1" cy="83.8" r="1.2"/><circle cx="548.0" cy="131.9" r="2.1"/><circle cx="660.3" cy="137.1" r="2.2"/><circle cx="608.9" cy="172.4" r="1.8"/><circle cx="574.5" cy="100.7" r="2.1"/><circle cx="563.1" cy="99.5" r="1.2"/><circle cx="559.6" cy="61.6" r="2.2"/><circle cx="605.0" cy="88.3" r="1.1"/><circle cx="612.0" cy="160.7" r="2.3"/><circle cx="645.9" cy="125.7" r="1.9"/><circle cx="560.9" cy="161.8" r="2.3"/><circle cx="599.6" cy="149.1" r="1.6"/><circle cx="618.4" cy="39.9" r="1.9"/><circle cx="592.2" cy="112.6" r="1.0"/><circle cx="593.0" cy="120.7" r="1.3"/><circle cx="582.9" cy="106.7" r="2.1"/><circle cx="664.4" cy="74.2" r="1.6"/><circle cx="634.7" cy="101.6" r="1.6"/><circle cx="624.2" cy="71.4" r="1.8"/><circle cx="584.8" cy="42.6" r="2.3"/><circle cx="631.5" cy="98.7" r="1.8"/><circle cx="587.0" cy="164.4" r="1.3"/><circle cx="624.2" cy="142.1" r="2.3"/><circle cx="612.8" cy="139.5" r="1.4"/><circle cx="639.7" cy="110.6" r="2.0"/><circle cx="584.4" cy="161.7" r="2.3"/><circle cx="615.5" cy="160.3" r="2.4"/><circle cx="618.0" cy="76.9" r="2.1"/><circle cx="607.8" cy="105.3" r="1.6"/><circle cx="652.8" cy="91.7" r="1.6"/><circle cx="638.7" cy="119.0" r="2.2"/><circle cx="594.1" cy="62.1" r="1.9"/><circle cx="670.0" cy="81.1" r="2.3"/><circle cx="648.0" cy="81.6" r="1.4"/><circle cx="589.6" cy="89.3" r="1.0"/><circle cx="574.0" cy="170.5" r="1.6"/><circle cx="588.7" cy="142.6" r="1.8"/><circle cx="668.6" cy="114.1" r="1.5"/><circle cx="639.5" cy="99.4" r="1.6"/><circle cx="570.3" cy="134.3" r="1.3"/><circle cx="592.0" cy="166.1" r="1.7"/><circle cx="611.2" cy="55.3" r="2.0"/><circle cx="590.3" cy="41.7" r="1.6"/><circle cx="632.7" cy="75.8" r="1.7"/><circle cx="559.1" cy="148.1" r="1.5"/><circle cx="604.4" cy="99.0" r="1.4"/><circle cx="598.1" cy="59.3" r="2.2"/><circle cx="570.1" cy="49.6" r="1.3"/><circle cx="669.8" cy="131.2" r="1.6"/><circle cx="643.9" cy="52.3" r="1.8"/><circle cx="634.7" cy="167.5" r="1.1"/><circle cx="565.3" cy="106.3" r="1.3"/><circle cx="657.3" cy="149.4" r="1.1"/><circle cx="676.0" cy="113.8" r="1.3"/><circle cx="638.6" cy="77.5" r="1.5"/><circle cx="623.5" cy="58.1" r="1.9"/><circle cx="611.7" cy="100.2" r="1.0"/><circle cx="586.0" cy="117.8" r="1.9"/><circle cx="600.3" cy="102.0" r="1.1"/><circle cx="644.4" cy="118.9" r="2.0"/><circle cx="613.6" cy="44.5" r="1.5"/><circle cx="618.6" cy="51.7" r="1.7"/><circle cx="652.8" cy="120.9" r="1.9"/><circle cx="622.9" cy="145.5" r="2.1"/><circle cx="584.9" cy="155.3" r="2.3"/><circle cx="544.6" cy="139.5" r="1.8"/><circle cx="605.0" cy="109.2" r="2.4"/><circle cx="656.1" cy="106.4" r="1.0"/><circle cx="614.2" cy="111.9" r="1.1"/><circle cx="666.9" cy="103.8" r="2.1"/><circle cx="565.2" cy="145.7" r="1.5"/><circle cx="585.2" cy="123.8" r="1.2"/><circle cx="543.8" cy="93.2" r="1.5"/><circle cx="585.4" cy="170.4" r="2.2"/><circle cx="651.6" cy="76.1" r="2.4"/><circle cx="656.8" cy="95.5" r="1.3"/><circle cx="656.2" cy="62.9" r="1.9"/><circle cx="644.5" cy="96.1" r="1.1"/><circle cx="614.0" cy="164.5" r="2.2"/><circle cx="631.4" cy="128.8" r="1.7"/><circle cx="606.2" cy="60.6" r="1.4"/><circle cx="595.2" cy="145.2" r="1.8"/><circle cx="581.8" cy="98.8" r="2.1"/><circle cx="603.4" cy="167.0" r="1.7"/><circle cx="602.2" cy="136.1" r="1.9"/><circle cx="630.8" cy="152.6" r="1.3"/><circle cx="638.9" cy="71.7" r="1.3"/><circle cx="625.3" cy="67.5" r="1.1"/><circle cx="553.8" cy="115.4" r="1.2"/><circle cx="627.4" cy="148.3" r="1.6"/><circle cx="594.4" cy="103.4" r="2.1"/><circle cx="665.9" cy="81.4" r="1.4"/><circle cx="565.8" cy="157.5" r="2.0"/><circle cx="603.5" cy="59.9" r="1.6"/><circle cx="537.9" cy="123.1" r="2.1"/><circle cx="601.4" cy="78.7" r="1.3"/><circle cx="572.7" cy="139.4" r="1.9"/><circle cx="597.2" cy="161.5" r="2.3"/><circle cx="591.6" cy="110.5" r="1.2"/><circle cx="643.7" cy="56.2" r="1.2"/><circle cx="648.3" cy="161.3" r="1.2"/><circle cx="594.7" cy="75.7" r="1.8"/><circle cx="618.2" cy="165.7" r="1.7"/><circle cx="644.8" cy="98.9" r="1.8"/><circle cx="549.6" cy="127.3" r="1.2"/><circle cx="574.0" cy="112.4" r="1.5"/><circle cx="588.0" cy="127.1" r="1.7"/><circle cx="618.1" cy="41.9" r="1.6"/><circle cx="608.3" cy="146.6" r="1.5"/><circle cx="656.2" cy="98.9" r="1.1"/><circle cx="581.0" cy="127.1" r="1.8"/><circle cx="623.8" cy="110.9" r="1.8"/><circle cx="609.7" cy="100.1" r="1.9"/><circle cx="653.9" cy="107.6" r="1.7"/><circle cx="618.8" cy="175.8" r="1.1"/><circle cx="560.8" cy="99.7" r="1.9"/><circle cx="625.6" cy="42.6" r="2.1"/><circle cx="619.6" cy="113.8" r="1.0"/><circle cx="651.5" cy="118.5" r="1.2"/><circle cx="622.6" cy="107.8" r="1.7"/><circle cx="626.8" cy="137.6" r="1.4"/><circle cx="612.3" cy="86.2" r="2.3"/><circle cx="597.7" cy="107.5" r="2.0"/><circle cx="643.0" cy="135.7" r="2.4"/><circle cx="592.0" cy="170.6" r="2.0"/><circle cx="584.0" cy="89.2" r="2.0"/><circle cx="554.9" cy="129.0" r="2.2"/><circle cx="646.6" cy="127.9" r="1.2"/><circle cx="610.6" cy="81.5" r="1.1"/><circle cx="544.1" cy="76.2" r="1.1"/><circle cx="674.2" cy="104.1" r="1.3"/><circle cx="620.2" cy="95.6" r="1.3"/><circle cx="620.0" cy="136.9" r="1.4"/><circle cx="622.9" cy="174.9" r="1.3"/><circle cx="601.1" cy="92.1" r="1.1"/><circle cx="621.3" cy="62.7" r="1.7"/><circle cx="624.7" cy="79.7" r="1.1"/><circle cx="569.6" cy="161.6" r="2.4"/><circle cx="608.5" cy="119.4" r="1.6"/><circle cx="613.2" cy="58.8" r="1.2"/><circle cx="606.5" cy="125.5" r="1.1"/><circle cx="537.1" cy="101.8" r="1.3"/><circle cx="577.5" cy="79.8" r="1.3"/><circle cx="655.8" cy="78.3" r="2.1"/><circle cx="623.0" cy="101.4" r="1.2"/><circle cx="628.7" cy="109.6" r="2.2"/><circle cx="594.1" cy="110.6" r="1.8"/><circle cx="601.9" cy="111.2" r="1.2"/><circle cx="614.8" cy="174.5" r="1.9"/><circle cx="583.9" cy="80.1" r="1.8"/><circle cx="631.2" cy="50.1" r="1.1"/><circle cx="577.8" cy="166.0" r="2.4"/><circle cx="623.2" cy="158.9" r="1.7"/><circle cx="553.5" cy="105.1" r="1.5"/><circle cx="553.3" cy="94.8" r="2.1"/><circle cx="565.8" cy="119.8" r="1.0"/><circle cx="662.7" cy="130.2" r="2.2"/><circle cx="559.7" cy="86.6" r="1.5"/><circle cx="648.2" cy="139.1" r="1.2"/><circle cx="654.9" cy="101.8" r="1.9"/><circle cx="600.5" cy="100.1" r="1.4"/><circle cx="544.9" cy="124.7" r="2.2"/><circle cx="635.8" cy="149.2" r="2.0"/><circle cx="577.6" cy="49.0" r="1.4"/><circle cx="639.0" cy="144.0" r="1.3"/><circle cx="623.3" cy="104.4" r="2.0"/><circle cx="585.7" cy="63.4" r="2.0"/><circle cx="605.0" cy="156.9" r="1.7"/><circle cx="567.8" cy="144.0" r="1.3"/><circle cx="573.8" cy="64.8" r="1.3"/><circle cx="606.4" cy="83.1" r="2.4"/><circle cx="631.9" cy="54.0" r="2.0"/><circle cx="567.1" cy="86.9" r="1.6"/><circle cx="659.2" cy="153.3" r="2.4"/><circle cx="596.9" cy="132.3" r="1.8"/><circle cx="606.8" cy="51.8" r="1.4"/><circle cx="592.9" cy="100.4" r="1.3"/><circle cx="611.0" cy="61.0" r="2.4"/><circle cx="628.0" cy="96.5" r="1.3"/><circle cx="621.6" cy="60.1" r="2.0"/><circle cx="639.8" cy="81.3" r="1.2"/><circle cx="669.5" cy="103.0" r="2.2"/><circle cx="587.3" cy="123.9" r="1.1"/><circle cx="572.1" cy="133.0" r="1.2"/><circle cx="629.8" cy="66.9" r="1.9"/><circle cx="633.9" cy="134.9" r="1.2"/><circle cx="602.1" cy="172.1" r="1.8"/><circle cx="634.6" cy="122.8" r="1.4"/><circle cx="632.7" cy="77.4" r="1.0"/><circle cx="591.3" cy="105.4" r="1.7"/><circle cx="625.8" cy="123.5" r="2.3"/><circle cx="603.7" cy="41.9" r="1.7"/><circle cx="601.8" cy="141.2" r="1.6"/><circle cx="599.5" cy="158.1" r="1.5"/><circle cx="624.7" cy="48.2" r="1.4"/><circle cx="647.1" cy="141.5" r="1.9"/><circle cx="629.4" cy="158.8" r="2.2"/><circle cx="659.7" cy="96.9" r="1.4"/><circle cx="557.6" cy="92.2" r="1.7"/><circle cx="554.0" cy="121.3" r="2.2"/><circle cx="663.6" cy="105.2" r="1.1"/><circle cx="624.3" cy="50.7" r="1.5"/><circle cx="573.0" cy="160.7" r="2.2"/><circle cx="586.1" cy="175.8" r="1.5"/><circle cx="566.7" cy="124.1" r="1.6"/><circle cx="634.3" cy="60.4" r="1.5"/><circle cx="652.0" cy="98.8" r="2.2"/><circle cx="553.8" cy="80.9" r="2.4"/><circle cx="569.9" cy="75.3" r="2.2"/><circle cx="587.4" cy="51.5" r="1.6"/><circle cx="610.1" cy="71.3" r="2.0"/><circle cx="603.4" cy="159.3" r="1.1"/><circle cx="582.4" cy="170.5" r="1.8"/><circle cx="620.4" cy="148.4" r="1.7"/><circle cx="637.2" cy="97.6" r="2.4"/><circle cx="623.5" cy="139.5" r="1.3"/><circle cx="573.2" cy="167.9" r="2.2"/><circle cx="566.1" cy="166.8" r="2.2"/><circle cx="627.6" cy="114.6" r="1.9"/><circle cx="610.2" cy="147.5" r="1.7"/><circle cx="657.0" cy="142.2" r="1.7"/><circle cx="609.6" cy="121.5" r="1.2"/><circle cx="632.0" cy="94.2" r="1.0"/><circle cx="649.3" cy="131.0" r="1.0"/><circle cx="537.6" cy="107.1" r="2.2"/><circle cx="555.6" cy="83.1" r="2.1"/><circle cx="606.9" cy="113.2" r="2.0"/><circle cx="630.6" cy="174.3" r="1.6"/><circle cx="606.3" cy="123.7" r="1.9"/><circle cx="619.1" cy="121.6" r="2.0"/><circle cx="645.3" cy="65.5" r="2.1"/><circle cx="567.6" cy="121.7" r="2.1"/><circle cx="559.6" cy="131.6" r="2.3"/><circle cx="614.5" cy="109.7" r="2.3"/><circle cx="652.3" cy="140.3" r="1.4"/><circle cx="640.8" cy="157.3" r="1.6"/><circle cx="600.9" cy="160.1" r="1.3"/><circle cx="645.0" cy="94.0" r="2.4"/><circle cx="603.8" cy="80.3" r="1.1"/><circle cx="613.1" cy="69.6" r="2.0"/><circle cx="546.7" cy="111.2" r="1.6"/><circle cx="631.7" cy="142.7" r="1.4"/><circle cx="605.4" cy="46.4" r="1.5"/><circle cx="648.8" cy="144.8" r="1.7"/><circle cx="662.3" cy="122.7" r="1.1"/><circle cx="628.1" cy="156.0" r="1.5"/><circle cx="636.2" cy="112.2" r="2.0"/><circle cx="624.4" cy="120.0" r="2.1"/><circle cx="657.3" cy="146.6" r="1.6"/><circle cx="590.4" cy="131.4" r="1.6"/><circle cx="585.2" cy="140.0" r="1.6"/><circle cx="623.5" cy="165.5" r="1.2"/><circle cx="592.5" cy="154.6" r="1.3"/><circle cx="617.0" cy="83.1" r="2.1"/><circle cx="591.9" cy="88.6" r="1.6"/><circle cx="621.6" cy="116.6" r="2.4"/><circle cx="589.7" cy="49.3" r="1.1"/><circle cx="639.1" cy="136.3" r="2.0"/><circle cx="612.5" cy="170.9" r="1.8"/><circle cx="581.9" cy="134.4" r="1.3"/><circle cx="629.1" cy="141.4" r="1.0"/><circle cx="626.4" cy="69.1" r="1.9"/><circle cx="549.4" cy="120.7" r="1.2"/><circle cx="634.9" cy="128.9" r="1.8"/><circle cx="606.6" cy="168.7" r="1.2"/><circle cx="614.2" cy="155.4" r="2.1"/><circle cx="550.5" cy="123.8" r="1.7"/><circle cx="570.1" cy="57.7" r="1.6"/><circle cx="615.4" cy="113.0" r="1.2"/><circle cx="557.5" cy="157.7" r="1.7"/><circle cx="559.2" cy="118.2" r="1.9"/><circle cx="620.1" cy="162.3" r="1.7"/><circle cx="542.9" cy="126.1" r="1.6"/><circle cx="573.7" cy="129.1" r="1.5"/><circle cx="581.0" cy="90.1" r="1.1"/><circle cx="581.6" cy="136.6" r="1.1"/><circle cx="573.5" cy="69.4" r="1.4"/><circle cx="606.1" cy="150.8" r="2.0"/><circle cx="647.5" cy="54.9" r="2.1"/><circle cx="553.8" cy="144.7" r="1.4"/><circle cx="671.7" cy="99.1" r="2.0"/><circle cx="638.4" cy="122.0" r="1.9"/><circle cx="617.4" cy="92.6" r="1.3"/><circle cx="634.4" cy="132.1" r="2.1"/><circle cx="620.0" cy="134.5" r="1.5"/><circle cx="628.0" cy="119.0" r="2.3"/><circle cx="606.0" cy="153.7" r="1.2"/><circle cx="665.1" cy="120.3" r="1.7"/><circle cx="560.3" cy="97.2" r="1.5"/><circle cx="631.5" cy="117.6" r="1.1"/><circle cx="568.9" cy="112.5" r="1.3"/><circle cx="625.4" cy="130.1" r="2.1"/><circle cx="639.9" cy="61.9" r="2.3"/><circle cx="610.0" cy="161.9" r="1.6"/><circle cx="652.1" cy="129.0" r="1.4"/><circle cx="601.6" cy="86.0" r="1.3"/><circle cx="599.9" cy="135.7" r="1.9"/><circle cx="565.8" cy="152.1" r="1.5"/><circle cx="648.0" cy="60.2" r="1.7"/><circle cx="639.1" cy="164.5" r="1.3"/><circle cx="600.7" cy="127.3" r="1.1"/><circle cx="611.2" cy="154.2" r="1.8"/><circle cx="553.7" cy="135.0" r="1.7"/><circle cx="573.5" cy="46.5" r="1.1"/><circle cx="579.1" cy="112.4" r="2.4"/><circle cx="638.3" cy="54.7" r="2.3"/><circle cx="573.3" cy="51.2" r="1.1"/><circle cx="545.0" cy="110.5" r="1.1"/><circle cx="629.3" cy="97.5" r="1.0"/><circle cx="558.2" cy="110.5" r="1.6"/><circle cx="643.3" cy="145.7" r="2.2"/><circle cx="576.4" cy="142.2" r="1.3"/><circle cx="579.1" cy="92.0" r="2.3"/><circle cx="605.5" cy="78.8" r="2.2"/><circle cx="644.0" cy="72.8" r="2.3"/><circle cx="614.6" cy="52.6" r="1.6"/><circle cx="583.7" cy="119.4" r="1.6"/><circle cx="613.9" cy="142.0" r="1.6"/><circle cx="587.9" cy="170.8" r="1.6"/><circle cx="636.2" cy="172.1" r="1.8"/><circle cx="600.3" cy="138.5" r="1.9"/><circle cx="557.1" cy="132.8" r="1.1"/><circle cx="560.0" cy="91.6" r="1.9"/><circle cx="633.1" cy="107.0" r="2.3"/><circle cx="594.1" cy="49.4" r="1.0"/><circle cx="667.8" cy="88.7" r="1.9"/><circle cx="640.7" cy="96.9" r="1.8"/><circle cx="555.2" cy="64.0" r="2.4"/><circle cx="606.7" cy="160.2" r="1.0"/><circle cx="605.6" cy="132.0" r="1.4"/><circle cx="650.4" cy="159.0" r="1.4"/><circle cx="553.0" cy="117.7" r="1.6"/><circle cx="613.8" cy="117.3" r="1.4"/><circle cx="562.7" cy="58.9" r="2.1"/><circle cx="633.0" cy="102.9" r="2.2"/><circle cx="599.5" cy="68.5" r="1.2"/><circle cx="631.0" cy="161.8" r="2.3"/><circle cx="628.8" cy="51.0" r="1.6"/><circle cx="603.1" cy="119.7" r="1.8"/><circle cx="597.1" cy="165.0" r="1.4"/><circle cx="551.8" cy="137.1" r="1.6"/><circle cx="565.9" cy="116.5" r="1.2"/><circle cx="574.6" cy="86.9" r="1.7"/><circle cx="582.4" cy="76.0" r="2.2"/><circle cx="601.7" cy="154.0" r="1.5"/><circle cx="561.8" cy="137.8" r="1.4"/><circle cx="624.2" cy="85.4" r="1.8"/><circle cx="576.8" cy="135.5" r="1.2"/><circle cx="598.3" cy="170.6" r="1.7"/><circle cx="551.2" cy="73.9" r="1.5"/><circle cx="642.4" cy="63.0" r="1.7"/><circle cx="562.9" cy="88.0" r="1.2"/><circle cx="552.9" cy="74.7" r="1.2"/><circle cx="650.0" cy="111.7" r="2.4"/><circle cx="619.7" cy="106.1" r="1.7"/><circle cx="624.0" cy="172.4" r="1.7"/><circle cx="601.0" cy="83.3" r="1.1"/><circle cx="671.7" cy="95.5" r="1.6"/><circle cx="572.8" cy="145.7" r="1.8"/><circle cx="590.0" cy="144.4" r="1.2"/><circle cx="663.9" cy="125.8" r="1.2"/></g></g>
<circle cx="772.9" cy="108.9" r="71.0" fill="url(#wg4)"/>
<g clip-path="url(#wc4)"><g filter="url(#sb)" fill="url(#sp4)"><circle cx="841.8" cy="114.0" r="6.0"/><circle cx="800.7" cy="106.5" r="4.5"/><circle cx="745.3" cy="49.0" r="6.2"/><circle cx="777.4" cy="179.0" r="5.2"/><circle cx="761.6" cy="167.0" r="5.0"/><circle cx="794.0" cy="82.7" r="6.2"/><circle cx="783.3" cy="170.8" r="3.5"/><circle cx="778.8" cy="158.8" r="2.7"/><circle cx="813.0" cy="130.6" r="2.9"/><circle cx="734.7" cy="91.0" r="3.5"/><circle cx="726.2" cy="140.6" r="3.4"/><circle cx="702.9" cy="113.2" r="3.5"/><circle cx="779.0" cy="116.3" r="2.3"/><circle cx="735.3" cy="110.1" r="3.4"/><circle cx="789.4" cy="123.7" r="2.1"/><circle cx="798.8" cy="68.3" r="2.9"/><circle cx="728.4" cy="108.3" r="2.3"/><circle cx="731.4" cy="163.3" r="2.4"/><circle cx="790.7" cy="74.0" r="2.5"/><circle cx="738.4" cy="166.2" r="2.7"/><circle cx="788.9" cy="98.4" r="3.3"/><circle cx="809.1" cy="141.0" r="2.8"/><circle cx="796.0" cy="72.5" r="3.5"/><circle cx="835.4" cy="86.2" r="2.3"/><circle cx="723.6" cy="114.8" r="3.6"/><circle cx="786.4" cy="114.4" r="3.3"/><circle cx="721.3" cy="121.4" r="3.2"/><circle cx="753.7" cy="58.3" r="2.4"/><circle cx="793.4" cy="110.0" r="2.5"/><circle cx="731.7" cy="147.7" r="2.6"/><circle cx="757.5" cy="55.8" r="3.0"/><circle cx="824.8" cy="67.4" r="2.0"/><circle cx="739.7" cy="155.8" r="2.6"/><circle cx="804.2" cy="148.7" r="2.4"/><circle cx="738.9" cy="169.9" r="3.5"/><circle cx="749.9" cy="162.3" r="2.5"/><circle cx="780.9" cy="124.0" r="3.4"/><circle cx="819.6" cy="146.6" r="3.3"/><circle cx="745.8" cy="154.8" r="3.4"/><circle cx="793.5" cy="123.5" r="2.5"/><circle cx="715.2" cy="91.1" r="2.8"/><circle cx="720.3" cy="150.3" r="1.8"/><circle cx="773.9" cy="104.2" r="1.1"/><circle cx="802.9" cy="60.6" r="1.6"/><circle cx="722.0" cy="92.4" r="1.7"/><circle cx="777.3" cy="151.4" r="1.5"/><circle cx="799.5" cy="148.9" r="1.7"/><circle cx="740.1" cy="161.5" r="1.9"/><circle cx="736.3" cy="49.4" r="1.3"/><circle cx="798.0" cy="135.6" r="1.2"/><circle cx="838.1" cy="134.9" r="1.9"/><circle cx="785.3" cy="51.5" r="1.0"/><circle cx="788.6" cy="163.2" r="1.6"/><circle cx="761.7" cy="47.3" r="1.5"/><circle cx="781.5" cy="174.5" r="1.1"/><circle cx="834.3" cy="131.3" r="1.4"/><circle cx="805.6" cy="77.1" r="1.3"/><circle cx="719.9" cy="108.5" r="1.4"/><circle cx="725.5" cy="118.5" r="1.6"/><circle cx="732.0" cy="130.4" r="1.9"/><circle cx="767.5" cy="118.3" r="1.9"/><circle cx="758.8" cy="83.7" r="2.0"/><circle cx="788.0" cy="67.6" r="1.3"/><circle cx="776.0" cy="53.0" r="1.1"/><circle cx="707.6" cy="130.1" r="1.4"/><circle cx="710.4" cy="78.9" r="1.5"/><circle cx="779.0" cy="140.8" r="1.7"/><circle cx="745.8" cy="66.9" r="1.7"/><circle cx="747.1" cy="160.9" r="1.8"/><circle cx="794.1" cy="151.0" r="1.9"/><circle cx="821.4" cy="154.7" r="1.9"/><circle cx="765.6" cy="166.8" r="1.5"/><circle cx="811.9" cy="164.0" r="1.6"/><circle cx="793.3" cy="136.7" r="1.9"/><circle cx="733.5" cy="50.9" r="1.8"/><circle cx="733.1" cy="128.1" r="1.6"/><circle cx="753.6" cy="48.5" r="1.4"/><circle cx="782.6" cy="44.1" r="1.3"/><circle cx="815.9" cy="103.4" r="1.3"/><circle cx="820.0" cy="141.5" r="1.0"/><circle cx="757.4" cy="79.4" r="1.2"/><circle cx="824.0" cy="134.0" r="1.7"/><circle cx="770.5" cy="167.7" r="1.2"/><circle cx="784.3" cy="76.8" r="1.9"/><circle cx="744.9" cy="105.5" r="1.6"/><circle cx="709.2" cy="83.8" r="1.5"/><circle cx="787.8" cy="49.0" r="1.7"/><circle cx="793.7" cy="57.5" r="0.9"/><circle cx="729.1" cy="103.4" r="1.5"/><circle cx="751.0" cy="158.1" r="1.3"/><circle cx="824.6" cy="85.1" r="1.3"/><circle cx="776.7" cy="103.9" r="1.9"/><circle cx="730.6" cy="60.3" r="1.4"/><circle cx="755.5" cy="91.5" r="0.9"/><circle cx="738.0" cy="82.4" r="1.8"/><circle cx="786.9" cy="148.6" r="1.3"/><circle cx="826.5" cy="143.3" r="1.1"/><circle cx="812.5" cy="96.6" r="1.9"/><circle cx="838.9" cy="129.5" r="1.5"/><circle cx="749.9" cy="95.2" r="1.8"/><circle cx="755.0" cy="63.5" r="1.6"/><circle cx="734.4" cy="140.8" r="1.2"/><circle cx="832.2" cy="102.0" r="2.0"/><circle cx="811.9" cy="53.7" r="1.6"/><circle cx="800.2" cy="96.2" r="1.8"/><circle cx="804.0" cy="88.2" r="1.7"/><circle cx="822.1" cy="148.8" r="1.2"/><circle cx="798.7" cy="98.9" r="1.2"/><circle cx="773.6" cy="62.1" r="1.3"/><circle cx="733.3" cy="69.5" r="1.3"/><circle cx="739.8" cy="49.9" r="1.7"/><circle cx="729.0" cy="67.8" r="1.1"/><circle cx="789.3" cy="148.3" r="1.0"/><circle cx="724.0" cy="130.7" r="1.0"/><circle cx="756.6" cy="62.9" r="1.0"/><circle cx="742.4" cy="61.4" r="1.8"/><circle cx="824.3" cy="61.0" r="1.3"/><circle cx="762.8" cy="126.4" r="1.1"/><circle cx="729.7" cy="157.3" r="1.5"/><circle cx="714.8" cy="123.6" r="2.0"/><circle cx="726.0" cy="76.4" r="1.1"/><circle cx="759.9" cy="77.0" r="1.4"/><circle cx="811.7" cy="72.1" r="1.6"/><circle cx="795.3" cy="119.2" r="2.0"/><circle cx="801.4" cy="123.8" r="1.3"/><circle cx="771.1" cy="94.4" r="1.7"/><circle cx="765.9" cy="63.7" r="0.9"/><circle cx="733.6" cy="60.0" r="1.7"/><circle cx="798.2" cy="101.0" r="2.0"/><circle cx="752.2" cy="153.0" r="1.5"/><circle cx="755.3" cy="42.6" r="1.3"/><circle cx="788.6" cy="43.7" r="0.9"/><circle cx="757.2" cy="155.7" r="1.2"/><circle cx="804.7" cy="123.2" r="1.1"/><circle cx="731.3" cy="97.7" r="1.4"/><circle cx="727.7" cy="100.8" r="1.2"/><circle cx="785.9" cy="176.2" r="1.3"/><circle cx="771.5" cy="164.9" r="0.9"/><circle cx="835.9" cy="137.4" r="1.7"/><circle cx="769.1" cy="120.8" r="1.5"/><circle cx="795.0" cy="46.0" r="1.2"/><circle cx="773.0" cy="102.6" r="1.7"/><circle cx="818.4" cy="159.3" r="1.6"/><circle cx="809.1" cy="59.1" r="1.0"/><circle cx="717.4" cy="66.5" r="1.9"/><circle cx="720.1" cy="64.3" r="1.9"/><circle cx="781.4" cy="115.4" r="1.2"/><circle cx="757.9" cy="44.9" r="1.4"/><circle cx="706.0" cy="102.5" r="1.1"/><circle cx="768.1" cy="40.8" r="2.0"/><circle cx="710.8" cy="107.3" r="1.9"/><circle cx="798.5" cy="110.1" r="1.2"/><circle cx="831.2" cy="144.9" r="1.7"/><circle cx="807.8" cy="146.9" r="1.1"/><circle cx="727.3" cy="147.2" r="1.9"/><circle cx="758.8" cy="101.7" r="1.8"/><circle cx="767.0" cy="142.7" r="1.5"/><circle cx="755.2" cy="85.5" r="1.9"/><circle cx="792.0" cy="143.7" r="1.9"/><circle cx="782.6" cy="95.9" r="1.4"/><circle cx="728.3" cy="153.1" r="2.0"/><circle cx="777.4" cy="162.3" r="1.7"/><circle cx="778.1" cy="148.2" r="1.1"/><circle cx="798.0" cy="134.0" r="1.2"/><circle cx="805.0" cy="68.7" r="1.8"/><circle cx="810.6" cy="89.6" r="1.3"/><circle cx="728.8" cy="96.0" r="1.6"/><circle cx="756.2" cy="136.7" r="1.4"/><circle cx="740.7" cy="94.2" r="1.0"/><circle cx="728.7" cy="120.8" r="1.6"/><circle cx="758.0" cy="86.9" r="1.4"/><circle cx="816.6" cy="160.4" r="1.3"/><circle cx="830.0" cy="84.3" r="1.8"/><circle cx="711.5" cy="134.1" r="1.1"/><circle cx="749.4" cy="82.0" r="1.6"/><circle cx="789.5" cy="151.6" r="1.9"/><circle cx="775.4" cy="148.9" r="1.8"/><circle cx="743.5" cy="54.4" r="1.8"/><circle cx="747.5" cy="165.2" r="1.7"/><circle cx="786.9" cy="43.8" r="0.9"/><circle cx="811.2" cy="50.5" r="1.1"/><circle cx="769.2" cy="173.6" r="1.6"/><circle cx="830.2" cy="136.2" r="1.1"/><circle cx="788.5" cy="128.5" r="1.9"/><circle cx="762.9" cy="111.5" r="1.8"/><circle cx="802.7" cy="48.6" r="1.0"/><circle cx="751.8" cy="64.5" r="1.8"/><circle cx="808.7" cy="99.6" r="1.2"/><circle cx="830.8" cy="139.8" r="0.9"/><circle cx="772.4" cy="54.4" r="1.6"/><circle cx="789.2" cy="101.4" r="1.9"/></g></g>
<circle cx="940.3" cy="109.4" r="71.0" fill="url(#wg5)"/>
<g clip-path="url(#wc5)"><g filter="url(#sb)" fill="url(#sp5)"><circle cx="916.6" cy="82.6" r="2.5"/><circle cx="920.6" cy="142.6" r="2.7"/><circle cx="918.0" cy="165.7" r="3.7"/><circle cx="938.8" cy="178.1" r="3.8"/><circle cx="909.0" cy="54.5" r="2.5"/><circle cx="907.1" cy="75.4" r="2.9"/><circle cx="928.1" cy="140.4" r="2.9"/><circle cx="904.3" cy="160.4" r="3.1"/><circle cx="993.7" cy="91.4" r="1.4"/><circle cx="954.8" cy="107.0" r="2.0"/><circle cx="878.5" cy="100.3" r="1.3"/><circle cx="931.1" cy="135.4" r="1.6"/><circle cx="934.7" cy="92.3" r="1.9"/><circle cx="944.7" cy="102.7" r="1.6"/><circle cx="873.7" cy="119.9" r="2.0"/><circle cx="904.4" cy="78.5" r="1.6"/><circle cx="946.9" cy="117.7" r="1.3"/><circle cx="909.8" cy="142.2" r="1.6"/><circle cx="894.1" cy="142.9" r="1.4"/><circle cx="988.4" cy="94.7" r="1.9"/><circle cx="958.9" cy="121.7" r="1.1"/><circle cx="935.6" cy="104.6" r="2.1"/><circle cx="975.4" cy="159.9" r="1.8"/><circle cx="984.8" cy="84.6" r="1.1"/><circle cx="919.7" cy="126.8" r="1.0"/><circle cx="934.4" cy="61.9" r="1.6"/><circle cx="953.9" cy="112.0" r="1.2"/><circle cx="991.4" cy="83.3" r="1.6"/><circle cx="945.1" cy="131.5" r="1.5"/><circle cx="957.6" cy="124.8" r="1.5"/><circle cx="945.3" cy="173.6" r="2.1"/><circle cx="880.3" cy="136.3" r="1.3"/><circle cx="925.3" cy="83.2" r="2.0"/><circle cx="957.0" cy="172.4" r="1.5"/><circle cx="936.8" cy="119.2" r="1.4"/><circle cx="962.2" cy="120.8" r="2.2"/><circle cx="901.5" cy="109.6" r="1.6"/><circle cx="899.4" cy="83.7" r="1.6"/><circle cx="983.5" cy="133.0" r="1.8"/><circle cx="930.9" cy="52.7" r="1.4"/><circle cx="956.9" cy="64.6" r="1.9"/><circle cx="932.1" cy="123.3" r="1.2"/><circle cx="891.8" cy="143.5" r="1.5"/><circle cx="950.2" cy="164.4" r="1.5"/><circle cx="992.4" cy="128.4" r="2.1"/><circle cx="932.8" cy="101.9" r="1.2"/><circle cx="915.7" cy="45.2" r="1.3"/><circle cx="968.5" cy="68.2" r="2.0"/><circle cx="873.3" cy="103.6" r="1.7"/><circle cx="877.6" cy="105.2" r="1.3"/><circle cx="909.0" cy="152.9" r="1.9"/><circle cx="990.9" cy="75.7" r="1.1"/><circle cx="949.9" cy="105.0" r="1.9"/><circle cx="967.7" cy="44.8" r="2.1"/><circle cx="985.6" cy="150.6" r="2.1"/><circle cx="950.0" cy="141.7" r="1.5"/><circle cx="965.6" cy="125.4" r="1.1"/><circle cx="947.7" cy="119.7" r="1.8"/><circle cx="949.1" cy="48.0" r="1.5"/><circle cx="972.6" cy="140.8" r="1.5"/><circle cx="938.9" cy="78.5" r="1.4"/><circle cx="943.5" cy="118.0" r="1.1"/><circle cx="882.1" cy="145.7" r="1.9"/><circle cx="926.6" cy="54.9" r="6.1"/><circle cx="956.4" cy="43.0" r="4.1"/><circle cx="962.3" cy="59.8" r="5.4"/><circle cx="967.3" cy="56.9" r="4.1"/><circle cx="904.7" cy="66.8" r="4.7"/><circle cx="902.8" cy="74.7" r="4.7"/><circle cx="917.7" cy="61.8" r="3.4"/><circle cx="941.5" cy="82.7" r="4.7"/><circle cx="908.7" cy="96.6" r="4.7"/><circle cx="883.9" cy="101.6" r="4.1"/><circle cx="940.5" cy="101.6" r="4.1"/><circle cx="954.4" cy="101.6" r="4.7"/><circle cx="990.2" cy="107.5" r="4.1"/><circle cx="998.1" cy="119.4" r="5.4"/><circle cx="903.8" cy="117.4" r="9.5"/><circle cx="897.8" cy="117.0" r="5.4"/><circle cx="911.7" cy="130.4" r="4.7"/><circle cx="901.8" cy="136.3" r="4.1"/><circle cx="899.8" cy="146.8" r="4.1"/><circle cx="956.4" cy="138.3" r="6.8"/><circle cx="950.4" cy="135.3" r="4.7"/><circle cx="932.6" cy="140.3" r="4.1"/><circle cx="943.5" cy="160.1" r="9.5"/><circle cx="931.6" cy="156.2" r="4.7"/><circle cx="969.3" cy="156.2" r="6.8"/><circle cx="983.2" cy="158.2" r="6.1"/><circle cx="911.7" cy="164.1" r="6.8"/><circle cx="1008.0" cy="98.6" r="4.1"/><circle cx="1001.0" cy="81.7" r="4.7"/><circle cx="882.9" cy="130.4" r="3.4"/><circle cx="989.2" cy="58.9" r="3.4"/><circle cx="919.6" cy="87.7" r="2.7"/><circle cx="931.6" cy="86.7" r="2.7"/><circle cx="932.6" cy="96.6" r="2.7"/><circle cx="975.3" cy="89.6" r="2.7"/><circle cx="963.0" cy="114.0" r="3.4"/><circle cx="957.0" cy="140.0" r="4.1"/></g></g>
<text x="64.45" y="209.00" class="wl" textLength="44.15" lengthAdjust="spacingAndGlyphs">IFN-γ</text>
<text x="114.65" y="209.00" class="wl" textLength="36.60" lengthAdjust="spacingAndGlyphs">CD8</text>
<text x="231.90" y="209.00" class="wl" textLength="45.00" lengthAdjust="spacingAndGlyphs">IFN-γ</text>
<text x="282.75" y="209.00" class="wl" textLength="36.15" lengthAdjust="spacingAndGlyphs">CD4</text>
<text x="404.40" y="209.00" class="wl" textLength="33.62" lengthAdjust="spacingAndGlyphs">IL-2</text>
<text x="444.93" y="209.00" class="wl" textLength="35.15" lengthAdjust="spacingAndGlyphs">CD4</text>
<text x="570.05" y="209.00" class="wl" textLength="33.67" lengthAdjust="spacingAndGlyphs">IL-4</text>
<text x="610.92" y="209.00" class="wl" textLength="35.15" lengthAdjust="spacingAndGlyphs">CD4</text>
<text x="736.17" y="209.00" class="wl" textLength="34.27" lengthAdjust="spacingAndGlyphs">IL-5</text>
<text x="777.05" y="209.00" class="wl" textLength="35.02" lengthAdjust="spacingAndGlyphs">CD4</text>
<text x="900.62" y="209.00" class="wl" textLength="44.40" lengthAdjust="spacingAndGlyphs">IL-17</text>
<text x="952.20" y="209.00" class="wl" textLength="35.65" lengthAdjust="spacingAndGlyphs">CD4</text>
<rect x="168.12" y="445.28" width="1.2" height="4.92" fill="#5eaadd"/>
<rect x="180.49" y="445.28" width="1.2" height="4.92" fill="#5eaadd"/>
<rect x="192.86" y="445.15" width="1.2" height="5.05" fill="#5eaadd"/>
<rect x="205.23" y="424.54" width="1.2" height="25.66" fill="#5eaadd"/>
<rect x="217.60" y="421.56" width="1.2" height="28.64" fill="#5eaadd"/>
<rect x="229.97" y="401.34" width="1.2" height="48.86" fill="#5eaadd"/>
<rect x="242.34" y="384.10" width="1.2" height="66.10" fill="#5eaadd"/>
<rect x="254.71" y="337.58" width="1.2" height="112.62" fill="#5eaadd"/>
<rect x="267.08" y="317.36" width="1.2" height="132.84" fill="#5eaadd"/>
<rect x="279.45" y="314.12" width="1.2" height="136.08" fill="#5eaadd"/>
<rect x="291.82" y="363.63" width="1.2" height="86.57" fill="#5eaadd"/>
<rect x="304.19" y="398.49" width="1.2" height="51.71" fill="#5eaadd"/>
<rect x="316.56" y="441.91" width="1.2" height="8.29" fill="#5eaadd"/>
<rect x="328.93" y="444.89" width="1.2" height="5.31" fill="#5eaadd"/>
<rect x="156.35" y="445.02" width="12.37" height="5.18" fill="#3399d6"/>
<rect x="168.72" y="445.28" width="12.37" height="4.92" fill="#89bce4"/>
<rect x="181.09" y="445.15" width="12.37" height="5.05" fill="#3399d6"/>
<rect x="193.46" y="424.54" width="12.37" height="25.66" fill="#89bce4"/>
<rect x="205.83" y="421.56" width="12.37" height="28.64" fill="#3399d6"/>
<rect x="218.20" y="401.34" width="12.37" height="48.86" fill="#89bce4"/>
<rect x="230.57" y="384.10" width="12.37" height="66.10" fill="#3399d6"/>
<rect x="242.94" y="337.58" width="12.37" height="112.62" fill="#89bce4"/>
<rect x="255.31" y="317.36" width="12.37" height="132.84" fill="#3399d6"/>
<rect x="267.68" y="305.57" width="12.37" height="144.63" fill="#89bce4"/>
<rect x="280.05" y="314.12" width="12.37" height="136.08" fill="#3399d6"/>
<rect x="292.42" y="363.63" width="12.37" height="86.57" fill="#89bce4"/>
<rect x="304.79" y="398.49" width="12.37" height="51.71" fill="#3399d6"/>
<rect x="317.16" y="441.91" width="12.37" height="8.29" fill="#89bce4"/>
<rect x="329.53" y="444.89" width="12.37" height="5.31" fill="#3399d6"/>
<path d="M94.25 294.68V454.50M94.25 450.20H342.95" stroke="#a7a9ac" stroke-width="1.1" fill="none"/>
<path d="M89.95 450.20H94.25" stroke="#a7a9ac" stroke-width="1.1"/>
<text x="86.45" y="453.20" text-anchor="end" class="tk">0</text>
<path d="M89.95 424.28H94.25" stroke="#a7a9ac" stroke-width="1.1"/>
<text x="86.45" y="427.28" text-anchor="end" class="tk">0.2</text>
<path d="M89.95 398.36H94.25" stroke="#a7a9ac" stroke-width="1.1"/>
<text x="86.45" y="401.36" text-anchor="end" class="tk">0.4</text>
<path d="M89.95 372.44H94.25" stroke="#a7a9ac" stroke-width="1.1"/>
<text x="86.45" y="375.44" text-anchor="end" class="tk">0.6</text>
<path d="M89.95 346.52H94.25" stroke="#a7a9ac" stroke-width="1.1"/>
<text x="86.45" y="349.52" text-anchor="end" class="tk">0.8</text>
<path d="M89.95 320.60H94.25" stroke="#a7a9ac" stroke-width="1.1"/>
<text x="86.45" y="323.60" text-anchor="end" class="tk">1</text>
<path d="M89.95 294.68H94.25" stroke="#a7a9ac" stroke-width="1.1"/>
<text x="86.45" y="297.68" text-anchor="end" class="tk">1.2</text>
<path d="M94.25 450.20V454.50" stroke="#a7a9ac" stroke-width="1.1"/>
<text x="93.45" y="465.40" text-anchor="middle" class="tk">-4</text>
<path d="M177.15 450.20V454.50" stroke="#a7a9ac" stroke-width="1.1"/>
<text x="176.35" y="465.40" text-anchor="middle" class="tk">-3</text>
<path d="M260.05 450.20V454.50" stroke="#a7a9ac" stroke-width="1.1"/>
<text x="259.25" y="465.40" text-anchor="middle" class="tk">-2</text>
<path d="M342.95 450.20V454.50" stroke="#a7a9ac" stroke-width="1.1"/>
<text x="342.15" y="465.40" text-anchor="middle" class="tk">-1</text>
<polyline points="94.25,450.20 95.80,450.20 97.36,450.20 98.91,450.20 100.47,450.20 102.02,450.20 103.58,450.20 105.13,450.20 106.68,450.20 108.24,450.20 109.79,450.20 111.35,450.20 112.90,450.20 114.46,450.20 116.01,450.20 117.57,450.20 119.12,450.20 120.67,450.20 122.23,450.20 123.78,450.20 125.34,450.20 126.89,450.19 128.45,450.19 130.00,450.19 131.56,450.19 133.11,450.19 134.66,450.18 136.22,450.18 137.77,450.17 139.33,450.17 140.88,450.16 142.44,450.15 143.99,450.14 145.54,450.13 147.10,450.11 148.65,450.09 150.21,450.07 151.76,450.04 153.32,450.01 154.87,449.97 156.43,449.93 157.98,449.87 159.53,449.81 161.09,449.74 162.64,449.65 164.20,449.55 165.75,449.43 167.31,449.30 168.86,449.14 170.41,448.96 171.97,448.75 173.52,448.51 175.08,448.24 176.63,447.93 178.19,447.57 179.74,447.17 181.29,446.72 182.85,446.20 184.40,445.63 185.96,444.98 187.51,444.26 189.07,443.46 190.62,442.57 192.18,441.58 193.73,440.49 195.28,439.29 196.84,437.98 198.39,436.54 199.95,434.97 201.50,433.26 203.06,431.42 204.61,429.42 206.17,427.28 207.72,424.98 209.27,422.52 210.83,419.90 212.38,417.11 213.94,414.17 215.49,411.06 217.05,407.80 218.60,404.38 220.15,400.82 221.71,397.11 223.26,393.28 224.82,389.33 226.37,385.28 227.93,381.13 229.48,376.91 231.03,372.63 232.59,368.32 234.14,363.99 235.70,359.67 237.25,355.38 238.81,351.14 240.36,346.98 241.92,342.92 243.47,339.00 245.02,335.23 246.58,331.64 248.13,328.25 249.69,325.10 251.24,322.19 252.80,319.56 254.35,317.22 255.91,315.19 257.46,313.48 259.01,312.11 260.57,311.09 262.12,310.43 263.68,310.12 265.23,310.18 266.79,310.60 268.34,311.39 269.89,312.52 271.45,314.00 273.00,315.82 274.56,317.95 276.11,320.39 277.67,323.11 279.22,326.10 280.77,329.33 282.33,332.79 283.88,336.44 285.44,340.26 286.99,344.23 288.55,348.33 290.10,352.51 291.66,356.77 293.21,361.08 294.76,365.41 296.32,369.73 297.87,374.04 299.43,378.30 300.98,382.49 302.54,386.61 304.09,390.64 305.64,394.55 307.20,398.34 308.75,402.00 310.31,405.51 311.86,408.88 313.42,412.09 314.97,415.15 316.53,418.04 318.08,420.77 319.63,423.34 321.19,425.75 322.74,428.00 324.30,430.09 325.85,432.04 327.41,433.84 328.96,435.50 330.51,437.02 332.07,438.42 333.62,439.70 335.18,440.86 336.73,441.91 338.29,442.87 339.84,443.73 341.40,444.51 342.95,445.20" fill="none" stroke="#f62838" stroke-width="1.3"/>
<text x="93.80" y="289.75" class="ct" textLength="32.65" lengthAdjust="spacingAndGlyphs">IFN-γ</text>
<text x="134.05" y="289.75" class="ct" textLength="27.30" lengthAdjust="spacingAndGlyphs">CD8</text>
<text x="103.50" y="321.00" class="pv" textLength="53.40" lengthAdjust="spacingAndGlyphs">p-value 0.300</text>
<rect x="494.48" y="433.28" width="1.2" height="17.32" fill="#5eaadd"/>
<rect x="505.06" y="433.28" width="1.2" height="17.32" fill="#5eaadd"/>
<rect x="515.64" y="418.68" width="1.2" height="31.92" fill="#5eaadd"/>
<rect x="526.22" y="398.77" width="1.2" height="51.83" fill="#5eaadd"/>
<rect x="536.80" y="387.27" width="1.2" height="63.33" fill="#5eaadd"/>
<rect x="547.38" y="356.51" width="1.2" height="94.09" fill="#5eaadd"/>
<rect x="557.96" y="321.22" width="1.2" height="129.38" fill="#5eaadd"/>
<rect x="568.54" y="334.40" width="1.2" height="116.20" fill="#5eaadd"/>
<rect x="579.12" y="365.17" width="1.2" height="85.43" fill="#5eaadd"/>
<rect x="589.70" y="390.76" width="1.2" height="59.84" fill="#5eaadd"/>
<rect x="600.28" y="416.09" width="1.2" height="34.51" fill="#5eaadd"/>
<rect x="610.86" y="434.83" width="1.2" height="15.77" fill="#5eaadd"/>
<rect x="621.44" y="447.37" width="1.2" height="3.23" fill="#5eaadd"/>
<rect x="632.02" y="449.82" width="1.2" height="0.78" fill="#5eaadd"/>
<rect x="484.50" y="432.25" width="10.58" height="18.35" fill="#3399d6"/>
<rect x="495.08" y="433.28" width="10.58" height="17.32" fill="#89bce4"/>
<rect x="505.66" y="418.68" width="10.58" height="31.92" fill="#3399d6"/>
<rect x="516.24" y="398.77" width="10.58" height="51.83" fill="#89bce4"/>
<rect x="526.82" y="387.27" width="10.58" height="63.33" fill="#3399d6"/>
<rect x="537.40" y="356.51" width="10.58" height="94.09" fill="#89bce4"/>
<rect x="547.98" y="321.22" width="10.58" height="129.38" fill="#3399d6"/>
<rect x="558.56" y="321.22" width="10.58" height="129.38" fill="#89bce4"/>
<rect x="569.14" y="334.40" width="10.58" height="116.20" fill="#3399d6"/>
<rect x="579.72" y="365.17" width="10.58" height="85.43" fill="#89bce4"/>
<rect x="590.30" y="390.76" width="10.58" height="59.84" fill="#3399d6"/>
<rect x="600.88" y="416.09" width="10.58" height="34.51" fill="#89bce4"/>
<rect x="611.46" y="434.83" width="10.58" height="15.77" fill="#3399d6"/>
<rect x="622.04" y="447.37" width="10.58" height="3.23" fill="#89bce4"/>
<rect x="632.62" y="449.82" width="10.58" height="0.78" fill="#3399d6"/>
<path d="M431.25 295.50V454.90M431.25 450.60H676.25" stroke="#a7a9ac" stroke-width="1.1" fill="none"/>
<path d="M426.95 450.60H431.25" stroke="#a7a9ac" stroke-width="1.1"/>
<text x="423.45" y="453.60" text-anchor="end" class="tk">0</text>
<path d="M426.95 424.75H431.25" stroke="#a7a9ac" stroke-width="1.1"/>
<text x="423.45" y="427.75" text-anchor="end" class="tk">0.2</text>
<path d="M426.95 398.90H431.25" stroke="#a7a9ac" stroke-width="1.1"/>
<text x="423.45" y="401.90" text-anchor="end" class="tk">0.4</text>
<path d="M426.95 373.05H431.25" stroke="#a7a9ac" stroke-width="1.1"/>
<text x="423.45" y="376.05" text-anchor="end" class="tk">0.6</text>
<path d="M426.95 347.20H431.25" stroke="#a7a9ac" stroke-width="1.1"/>
<text x="423.45" y="350.20" text-anchor="end" class="tk">0.8</text>
<path d="M426.95 321.35H431.25" stroke="#a7a9ac" stroke-width="1.1"/>
<text x="423.45" y="324.35" text-anchor="end" class="tk">1</text>
<path d="M426.95 295.50H431.25" stroke="#a7a9ac" stroke-width="1.1"/>
<text x="423.45" y="298.50" text-anchor="end" class="tk">1.2</text>
<path d="M431.25 450.60V454.90" stroke="#a7a9ac" stroke-width="1.1"/>
<text x="430.45" y="465.80" text-anchor="middle" class="tk">-4</text>
<path d="M501.25 450.60V454.90" stroke="#a7a9ac" stroke-width="1.1"/>
<text x="500.45" y="465.80" text-anchor="middle" class="tk">-3</text>
<path d="M571.25 450.60V454.90" stroke="#a7a9ac" stroke-width="1.1"/>
<text x="570.45" y="465.80" text-anchor="middle" class="tk">-2</text>
<path d="M641.25 450.60V454.90" stroke="#a7a9ac" stroke-width="1.1"/>
<text x="640.45" y="465.80" text-anchor="middle" class="tk">-1</text>
<polyline points="431.25,450.59 432.78,450.59 434.31,450.58 435.84,450.58 437.38,450.58 438.91,450.57 440.44,450.56 441.97,450.55 443.50,450.54 445.03,450.53 446.56,450.51 448.09,450.50 449.62,450.47 451.16,450.45 452.69,450.41 454.22,450.38 455.75,450.33 457.28,450.28 458.81,450.21 460.34,450.14 461.88,450.05 463.41,449.95 464.94,449.83 466.47,449.69 468.00,449.53 469.53,449.35 471.06,449.13 472.59,448.89 474.12,448.61 475.66,448.29 477.19,447.92 478.72,447.51 480.25,447.04 481.78,446.51 483.31,445.92 484.84,445.25 486.38,444.51 487.91,443.68 489.44,442.77 490.97,441.75 492.50,440.63 494.03,439.40 495.56,438.05 497.09,436.58 498.62,434.98 500.16,433.24 501.69,431.37 503.22,429.35 504.75,427.18 506.28,424.85 507.81,422.38 509.34,419.75 510.88,416.97 512.41,414.04 513.94,410.96 515.47,407.74 517.00,404.38 518.53,400.90 520.06,397.30 521.59,393.60 523.12,389.80 524.66,385.93 526.19,382.00 527.72,378.03 529.25,374.04 530.78,370.04 532.31,366.08 533.84,362.16 535.38,358.31 536.91,354.55 538.44,350.92 539.97,347.43 541.50,344.10 543.03,340.97 544.56,338.06 546.09,335.39 547.62,332.97 549.16,330.83 550.69,328.98 552.22,327.44 553.75,326.23 555.28,325.34 556.81,324.79 558.34,324.58 559.88,324.72 561.41,325.20 562.94,326.02 564.47,327.17 566.00,328.64 567.53,330.43 569.06,332.51 570.59,334.87 572.12,337.50 573.66,340.36 575.19,343.45 576.72,346.73 578.25,350.19 579.78,353.80 581.31,357.53 582.84,361.36 584.38,365.27 585.91,369.23 587.44,373.22 588.97,377.21 590.50,381.19 592.03,385.13 593.56,389.01 595.09,392.83 596.62,396.55 598.16,400.17 599.69,403.68 601.22,407.06 602.75,410.31 604.28,413.42 605.81,416.38 607.34,419.20 608.88,421.86 610.41,424.36 611.94,426.71 613.47,428.92 615.00,430.97 616.53,432.87 618.06,434.64 619.59,436.27 621.12,437.76 622.66,439.14 624.19,440.39 625.72,441.53 627.25,442.57 628.78,443.50 630.31,444.35 631.84,445.11 633.38,445.79 634.91,446.39 636.44,446.94 637.97,447.42 639.50,447.84 641.03,448.21 642.56,448.54 644.09,448.83 645.62,449.08 647.16,449.30 648.69,449.50 650.22,449.66 651.75,449.80 653.28,449.93 654.81,450.03 656.34,450.12 657.88,450.20 659.41,450.27 660.94,450.32 662.47,450.37 664.00,450.41 665.53,450.44 667.06,450.47 668.59,450.49 670.12,450.51 671.66,450.53 673.19,450.54 674.72,450.55 676.25,450.56" fill="none" stroke="#f62838" stroke-width="1.3"/>
<text x="430.80" y="289.75" class="ct" textLength="32.20" lengthAdjust="spacingAndGlyphs">IFN-γ</text>
<text x="470.20" y="289.75" class="ct" textLength="27.52" lengthAdjust="spacingAndGlyphs">CD4</text>
<text x="440.40" y="321.25" class="pv" textLength="53.35" lengthAdjust="spacingAndGlyphs">p-value 0.050</text>
<rect x="835.14" y="447.90" width="1.2" height="2.20" fill="#90ce92"/>
<rect x="846.78" y="447.90" width="1.2" height="2.20" fill="#90ce92"/>
<rect x="858.42" y="447.90" width="1.2" height="2.20" fill="#90ce92"/>
<rect x="870.06" y="447.90" width="1.2" height="2.20" fill="#90ce92"/>
<rect x="881.70" y="427.31" width="1.2" height="22.79" fill="#90ce92"/>
<rect x="893.34" y="427.31" width="1.2" height="22.79" fill="#90ce92"/>
<rect x="904.98" y="386.77" width="1.2" height="63.33" fill="#90ce92"/>
<rect x="916.62" y="339.90" width="1.2" height="110.20" fill="#90ce92"/>
<rect x="928.26" y="339.90" width="1.2" height="110.20" fill="#90ce92"/>
<rect x="939.90" y="322.28" width="1.2" height="127.82" fill="#90ce92"/>
<rect x="951.54" y="337.56" width="1.2" height="112.54" fill="#90ce92"/>
<rect x="963.18" y="360.36" width="1.2" height="89.74" fill="#90ce92"/>
<rect x="974.82" y="416.04" width="1.2" height="34.06" fill="#90ce92"/>
<rect x="986.46" y="442.07" width="1.2" height="8.03" fill="#90ce92"/>
<rect x="824.10" y="444.92" width="11.64" height="5.18" fill="#78c47f"/>
<rect x="835.74" y="447.90" width="11.64" height="2.20" fill="#a9d9a6"/>
<rect x="847.38" y="444.92" width="11.64" height="5.18" fill="#78c47f"/>
<rect x="859.02" y="447.90" width="11.64" height="2.20" fill="#a9d9a6"/>
<rect x="870.66" y="416.04" width="11.64" height="34.06" fill="#78c47f"/>
<rect x="882.30" y="427.31" width="11.64" height="22.79" fill="#a9d9a6"/>
<rect x="893.94" y="386.77" width="11.64" height="63.33" fill="#78c47f"/>
<rect x="905.58" y="339.90" width="11.64" height="110.20" fill="#a9d9a6"/>
<rect x="917.22" y="339.90" width="11.64" height="110.20" fill="#78c47f"/>
<rect x="928.86" y="322.28" width="11.64" height="127.82" fill="#a9d9a6"/>
<rect x="940.50" y="313.61" width="11.64" height="136.49" fill="#78c47f"/>
<rect x="952.14" y="337.56" width="11.64" height="112.54" fill="#a9d9a6"/>
<rect x="963.78" y="360.36" width="11.64" height="89.74" fill="#78c47f"/>
<rect x="975.42" y="416.04" width="11.64" height="34.06" fill="#a9d9a6"/>
<rect x="987.06" y="442.07" width="11.64" height="8.03" fill="#78c47f"/>
<path d="M765.70 294.70V454.40M765.70 450.10H1001.50" stroke="#a7a9ac" stroke-width="1.1" fill="none"/>
<path d="M761.40 450.10H765.70" stroke="#a7a9ac" stroke-width="1.1"/>
<text x="757.90" y="453.10" text-anchor="end" class="tk">0</text>
<path d="M761.40 424.20H765.70" stroke="#a7a9ac" stroke-width="1.1"/>
<text x="757.90" y="427.20" text-anchor="end" class="tk">0.2</text>
<path d="M761.40 398.30H765.70" stroke="#a7a9ac" stroke-width="1.1"/>
<text x="757.90" y="401.30" text-anchor="end" class="tk">0.4</text>
<path d="M761.40 372.40H765.70" stroke="#a7a9ac" stroke-width="1.1"/>
<text x="757.90" y="375.40" text-anchor="end" class="tk">0.6</text>
<path d="M761.40 346.50H765.70" stroke="#a7a9ac" stroke-width="1.1"/>
<text x="757.90" y="349.50" text-anchor="end" class="tk">0.8</text>
<path d="M761.40 320.60H765.70" stroke="#a7a9ac" stroke-width="1.1"/>
<text x="757.90" y="323.60" text-anchor="end" class="tk">1</text>
<path d="M761.40 294.70H765.70" stroke="#a7a9ac" stroke-width="1.1"/>
<text x="757.90" y="297.70" text-anchor="end" class="tk">1.2</text>
<path d="M765.70 450.10V454.40" stroke="#a7a9ac" stroke-width="1.1"/>
<text x="764.90" y="465.30" text-anchor="middle" class="tk">-4</text>
<path d="M844.30 450.10V454.40" stroke="#a7a9ac" stroke-width="1.1"/>
<text x="843.50" y="465.30" text-anchor="middle" class="tk">-3</text>
<path d="M922.90 450.10V454.40" stroke="#a7a9ac" stroke-width="1.1"/>
<text x="922.10" y="465.30" text-anchor="middle" class="tk">-2</text>
<path d="M1001.50 450.10V454.40" stroke="#a7a9ac" stroke-width="1.1"/>
<text x="1000.70" y="465.30" text-anchor="middle" class="tk">-1</text>
<polyline points="765.70,450.10 767.17,450.10 768.65,450.10 770.12,450.10 771.60,450.10 773.07,450.10 774.54,450.10 776.02,450.10 777.49,450.10 778.96,450.10 780.44,450.10 781.91,450.10 783.39,450.10 784.86,450.10 786.33,450.10 787.81,450.10 789.28,450.10 790.75,450.10 792.23,450.10 793.70,450.10 795.18,450.10 796.65,450.10 798.12,450.09 799.60,450.09 801.07,450.09 802.54,450.09 804.02,450.09 805.49,450.08 806.97,450.08 808.44,450.07 809.91,450.07 811.39,450.06 812.86,450.05 814.33,450.04 815.81,450.03 817.28,450.02 818.75,450.00 820.23,449.98 821.70,449.96 823.18,449.93 824.65,449.89 826.12,449.85 827.60,449.81 829.07,449.75 830.55,449.69 832.02,449.61 833.49,449.53 834.97,449.43 836.44,449.31 837.91,449.18 839.39,449.02 840.86,448.84 842.34,448.64 843.81,448.41 845.28,448.15 846.76,447.85 848.23,447.51 849.70,447.13 851.18,446.70 852.65,446.22 854.12,445.68 855.60,445.08 857.07,444.41 858.55,443.67 860.02,442.85 861.49,441.94 862.97,440.94 864.44,439.84 865.92,438.64 867.39,437.33 868.86,435.91 870.34,434.36 871.81,432.69 873.28,430.88 874.76,428.94 876.23,426.86 877.71,424.63 879.18,422.26 880.65,419.74 882.13,417.08 883.60,414.26 885.07,411.30 886.55,408.20 888.02,404.96 889.50,401.58 890.97,398.08 892.44,394.46 893.92,390.73 895.39,386.90 896.86,382.99 898.34,379.00 899.81,374.97 901.29,370.89 902.76,366.80 904.23,362.70 905.71,358.63 907.18,354.60 908.65,350.62 910.13,346.74 911.60,342.96 913.08,339.30 914.55,335.81 916.02,332.48 917.50,329.35 918.97,326.44 920.44,323.76 921.92,321.33 923.39,319.17 924.87,317.30 926.34,315.72 927.81,314.46 929.29,313.51 930.76,312.89 932.23,312.60 933.71,312.63 935.18,313.00 936.65,313.70 938.13,314.72 939.60,316.06 941.08,317.71 942.55,319.65 944.02,321.87 945.50,324.35 946.97,327.09 948.45,330.06 949.92,333.23 951.39,336.60 952.87,340.14 954.34,343.82 955.81,347.63 957.29,351.54 958.76,355.52 960.24,359.57 961.71,363.65 963.18,367.75 964.66,371.84 966.13,375.91 967.60,379.93 969.08,383.90 970.55,387.79 972.03,391.60 973.50,395.30 974.97,398.90 976.45,402.37 977.92,405.72 979.39,408.93 980.87,412.00 982.34,414.93 983.82,417.71 985.29,420.34 986.76,422.82 988.24,425.16 989.71,427.35 991.18,429.40 992.66,431.31 994.13,433.08 995.61,434.73 997.08,436.25 998.55,437.65 1000.03,438.93 1001.50,440.11" fill="none" stroke="#f62838" stroke-width="1.3"/>
<text x="765.65" y="289.50" class="ct" textLength="25.30" lengthAdjust="spacingAndGlyphs">IL-2</text>
<text x="794.60" y="289.50" class="ct" textLength="27.17" lengthAdjust="spacingAndGlyphs">CD4</text>
<text x="774.90" y="321.00" class="pv" textLength="53.50" lengthAdjust="spacingAndGlyphs">p-value 0.442</text>
<rect x="174.30" y="649.76" width="1.2" height="5.14" fill="#fdc084"/>
<rect x="185.75" y="640.89" width="1.2" height="14.01" fill="#fdc084"/>
<rect x="197.20" y="637.94" width="1.2" height="16.96" fill="#fdc084"/>
<rect x="208.65" y="626.12" width="1.2" height="28.78" fill="#fdc084"/>
<rect x="220.10" y="620.46" width="1.2" height="34.44" fill="#fdc084"/>
<rect x="231.55" y="573.30" width="1.2" height="81.60" fill="#fdc084"/>
<rect x="243.00" y="570.09" width="1.2" height="84.81" fill="#fdc084"/>
<rect x="254.45" y="516.89" width="1.2" height="138.01" fill="#fdc084"/>
<rect x="265.90" y="528.71" width="1.2" height="126.19" fill="#fdc084"/>
<rect x="277.35" y="546.57" width="1.2" height="108.33" fill="#fdc084"/>
<rect x="288.80" y="596.69" width="1.2" height="58.21" fill="#fdc084"/>
<rect x="300.25" y="626.12" width="1.2" height="28.78" fill="#fdc084"/>
<rect x="311.70" y="652.46" width="1.2" height="2.44" fill="#fdc084"/>
<rect x="163.45" y="649.76" width="11.45" height="5.14" fill="#fdb46f"/>
<rect x="174.90" y="640.89" width="11.45" height="14.01" fill="#fdcc9a"/>
<rect x="186.35" y="637.94" width="11.45" height="16.96" fill="#fdb46f"/>
<rect x="197.80" y="626.12" width="11.45" height="28.78" fill="#fdcc9a"/>
<rect x="209.25" y="620.46" width="11.45" height="34.44" fill="#fdb46f"/>
<rect x="220.70" y="573.30" width="11.45" height="81.60" fill="#fdcc9a"/>
<rect x="232.15" y="570.09" width="11.45" height="84.81" fill="#fdb46f"/>
<rect x="243.60" y="516.89" width="11.45" height="138.01" fill="#fdcc9a"/>
<rect x="255.05" y="508.41" width="11.45" height="146.49" fill="#fdb46f"/>
<rect x="266.50" y="528.71" width="11.45" height="126.19" fill="#fdcc9a"/>
<rect x="277.95" y="546.57" width="11.45" height="108.33" fill="#fdb46f"/>
<rect x="289.40" y="596.69" width="11.45" height="58.21" fill="#fdcc9a"/>
<rect x="300.85" y="626.12" width="11.45" height="28.78" fill="#fdb46f"/>
<rect x="312.30" y="652.46" width="11.45" height="2.44" fill="#fdcc9a"/>
<path d="M94.25 500.70V659.20M94.25 654.90H330.29" stroke="#a7a9ac" stroke-width="1.1" fill="none"/>
<path d="M89.95 654.90H94.25" stroke="#a7a9ac" stroke-width="1.1"/>
<text x="86.45" y="657.90" text-anchor="end" class="tk">0</text>
<path d="M89.95 629.20H94.25" stroke="#a7a9ac" stroke-width="1.1"/>
<text x="86.45" y="632.20" text-anchor="end" class="tk">0.2</text>
<path d="M89.95 603.50H94.25" stroke="#a7a9ac" stroke-width="1.1"/>
<text x="86.45" y="606.50" text-anchor="end" class="tk">0.4</text>
<path d="M89.95 577.80H94.25" stroke="#a7a9ac" stroke-width="1.1"/>
<text x="86.45" y="580.80" text-anchor="end" class="tk">0.6</text>
<path d="M89.95 552.10H94.25" stroke="#a7a9ac" stroke-width="1.1"/>
<text x="86.45" y="555.10" text-anchor="end" class="tk">0.8</text>
<path d="M89.95 526.40H94.25" stroke="#a7a9ac" stroke-width="1.1"/>
<text x="86.45" y="529.40" text-anchor="end" class="tk">1</text>
<path d="M89.95 500.70H94.25" stroke="#a7a9ac" stroke-width="1.1"/>
<text x="86.45" y="503.70" text-anchor="end" class="tk">1.2</text>
<path d="M94.25 654.90V659.20" stroke="#a7a9ac" stroke-width="1.1"/>
<text x="93.45" y="670.10" text-anchor="middle" class="tk">-4</text>
<path d="M172.93 654.90V659.20" stroke="#a7a9ac" stroke-width="1.1"/>
<text x="172.13" y="670.10" text-anchor="middle" class="tk">-3</text>
<path d="M251.61 654.90V659.20" stroke="#a7a9ac" stroke-width="1.1"/>
<text x="250.81" y="670.10" text-anchor="middle" class="tk">-2</text>
<path d="M330.29 654.90V659.20" stroke="#a7a9ac" stroke-width="1.1"/>
<text x="329.49" y="670.10" text-anchor="middle" class="tk">-1</text>
<polyline points="94.25,654.90 95.73,654.90 97.20,654.90 98.68,654.90 100.15,654.90 101.63,654.90 103.10,654.90 104.58,654.90 106.05,654.90 107.53,654.90 109.00,654.90 110.48,654.90 111.95,654.90 113.43,654.90 114.90,654.90 116.38,654.90 117.85,654.90 119.33,654.90 120.80,654.90 122.28,654.90 123.75,654.89 125.23,654.89 126.71,654.89 128.18,654.89 129.66,654.89 131.13,654.88 132.61,654.88 134.08,654.87 135.56,654.87 137.03,654.86 138.51,654.85 139.98,654.84 141.46,654.83 142.93,654.81 144.41,654.79 145.88,654.77 147.36,654.74 148.83,654.71 150.31,654.67 151.78,654.63 153.26,654.58 154.74,654.51 156.21,654.44 157.69,654.36 159.16,654.26 160.64,654.14 162.11,654.01 163.59,653.86 165.06,653.68 166.54,653.48 168.01,653.25 169.49,652.99 170.96,652.68 172.44,652.34 173.91,651.95 175.39,651.52 176.86,651.02 178.34,650.47 179.81,649.85 181.29,649.16 182.77,648.38 184.24,647.53 185.72,646.58 187.19,645.54 188.67,644.39 190.14,643.13 191.62,641.75 193.09,640.25 194.57,638.62 196.04,636.85 197.52,634.94 198.99,632.88 200.47,630.68 201.94,628.32 203.42,625.80 204.89,623.13 206.37,620.30 207.84,617.31 209.32,614.17 210.79,610.87 212.27,607.43 213.75,603.85 215.22,600.15 216.70,596.32 218.17,592.38 219.65,588.34 221.12,584.23 222.60,580.05 224.07,575.82 225.55,571.57 227.02,567.31 228.50,563.06 229.97,558.85 231.45,554.71 232.92,550.65 234.40,546.70 235.87,542.88 237.35,539.23 238.82,535.76 240.30,532.49 241.78,529.45 243.25,526.66 244.73,524.15 246.20,521.92 247.68,519.99 249.15,518.39 250.63,517.11 252.10,516.18 253.58,515.59 255.05,515.35 256.53,515.47 258.00,515.94 259.48,516.76 260.95,517.92 262.43,519.42 263.90,521.24 265.38,523.37 266.85,525.79 268.33,528.49 269.80,531.44 271.28,534.63 272.76,538.04 274.23,541.64 275.71,545.40 277.18,549.31 278.66,553.33 280.13,557.45 281.61,561.64 283.08,565.88 284.56,570.13 286.03,574.39 287.51,578.63 288.98,582.83 290.46,586.97 291.93,591.03 293.41,595.00 294.88,598.87 296.36,602.62 297.83,606.25 299.31,609.73 300.79,613.08 302.26,616.27 303.74,619.31 305.21,622.19 306.69,624.92 308.16,627.49 309.64,629.90 311.11,632.16 312.59,634.26 314.06,636.22 315.54,638.04 317.01,639.71 318.49,641.26 319.96,642.68 321.44,643.98 322.91,645.16 324.39,646.24 325.86,647.22 327.34,648.11 328.81,648.91 330.29,649.62" fill="none" stroke="#f62838" stroke-width="1.3"/>
<text x="94.20" y="494.50" class="ct" textLength="25.20" lengthAdjust="spacingAndGlyphs">IL-4</text>
<text x="122.83" y="494.50" class="ct" textLength="27.80" lengthAdjust="spacingAndGlyphs">CD4</text>
<text x="103.75" y="526.00" class="pv" textLength="53.35" lengthAdjust="spacingAndGlyphs">p-value 0.128</text>
<rect x="506.08" y="653.65" width="1.2" height="1.25" fill="#fa9d96"/>
<rect x="516.84" y="639.78" width="1.2" height="15.12" fill="#fa9d96"/>
<rect x="527.60" y="633.23" width="1.2" height="21.67" fill="#fa9d96"/>
<rect x="538.36" y="626.68" width="1.2" height="28.22" fill="#fa9d96"/>
<rect x="549.12" y="591.14" width="1.2" height="63.76" fill="#fa9d96"/>
<rect x="559.88" y="549.36" width="1.2" height="105.54" fill="#fa9d96"/>
<rect x="570.64" y="503.21" width="1.2" height="151.69" fill="#fa9d96"/>
<rect x="581.40" y="539.38" width="1.2" height="115.52" fill="#fa9d96"/>
<rect x="592.16" y="539.38" width="1.2" height="115.52" fill="#fa9d96"/>
<rect x="602.92" y="555.75" width="1.2" height="99.15" fill="#fa9d96"/>
<rect x="613.68" y="610.62" width="1.2" height="44.28" fill="#fa9d96"/>
<rect x="624.44" y="636.50" width="1.2" height="18.40" fill="#fa9d96"/>
<rect x="635.20" y="652.56" width="1.2" height="2.34" fill="#fa9d96"/>
<rect x="474.40" y="648.98" width="10.76" height="5.92" fill="#f88b85"/>
<rect x="495.92" y="653.65" width="10.76" height="1.25" fill="#f88b85"/>
<rect x="506.68" y="639.78" width="10.76" height="15.12" fill="#fcafa8"/>
<rect x="517.44" y="633.23" width="10.76" height="21.67" fill="#f88b85"/>
<rect x="528.20" y="626.68" width="10.76" height="28.22" fill="#fcafa8"/>
<rect x="538.96" y="591.14" width="10.76" height="63.76" fill="#f88b85"/>
<rect x="549.72" y="549.36" width="10.76" height="105.54" fill="#fcafa8"/>
<rect x="560.48" y="500.87" width="10.76" height="154.03" fill="#f88b85"/>
<rect x="571.24" y="503.21" width="10.76" height="151.69" fill="#fcafa8"/>
<rect x="582.00" y="539.38" width="10.76" height="115.52" fill="#f88b85"/>
<rect x="592.76" y="516.93" width="10.76" height="137.97" fill="#fcafa8"/>
<rect x="603.52" y="555.75" width="10.76" height="99.15" fill="#f88b85"/>
<rect x="614.28" y="610.62" width="10.76" height="44.28" fill="#fcafa8"/>
<rect x="625.04" y="636.50" width="10.76" height="18.40" fill="#f88b85"/>
<rect x="635.80" y="652.56" width="10.76" height="2.34" fill="#fcafa8"/>
<path d="M431.25 499.00V659.20M431.25 654.90H666.80" stroke="#a7a9ac" stroke-width="1.1" fill="none"/>
<path d="M426.95 654.90H431.25" stroke="#a7a9ac" stroke-width="1.1"/>
<text x="423.45" y="657.90" text-anchor="end" class="tk">0</text>
<path d="M426.95 623.72H431.25" stroke="#a7a9ac" stroke-width="1.1"/>
<text x="423.45" y="626.72" text-anchor="end" class="tk">0.2</text>
<path d="M426.95 592.54H431.25" stroke="#a7a9ac" stroke-width="1.1"/>
<text x="423.45" y="595.54" text-anchor="end" class="tk">0.4</text>
<path d="M426.95 561.36H431.25" stroke="#a7a9ac" stroke-width="1.1"/>
<text x="423.45" y="564.36" text-anchor="end" class="tk">0.6</text>
<path d="M426.95 530.18H431.25" stroke="#a7a9ac" stroke-width="1.1"/>
<text x="423.45" y="533.18" text-anchor="end" class="tk">0.8</text>
<path d="M426.95 499.00H431.25" stroke="#a7a9ac" stroke-width="1.1"/>
<text x="423.45" y="502.00" text-anchor="end" class="tk">1</text>
<path d="M431.25 654.90V659.20" stroke="#a7a9ac" stroke-width="1.1"/>
<text x="430.45" y="670.10" text-anchor="middle" class="tk">-4</text>
<path d="M498.55 654.90V659.20" stroke="#a7a9ac" stroke-width="1.1"/>
<text x="497.75" y="670.10" text-anchor="middle" class="tk">-3</text>
<path d="M565.85 654.90V659.20" stroke="#a7a9ac" stroke-width="1.1"/>
<text x="565.05" y="670.10" text-anchor="middle" class="tk">-2</text>
<path d="M633.15 654.90V659.20" stroke="#a7a9ac" stroke-width="1.1"/>
<text x="632.35" y="670.10" text-anchor="middle" class="tk">-1</text>
<polyline points="431.25,654.90 432.72,654.90 434.19,654.90 435.67,654.90 437.14,654.90 438.61,654.90 440.08,654.90 441.56,654.90 443.03,654.90 444.50,654.90 445.97,654.90 447.44,654.90 448.92,654.90 450.39,654.89 451.86,654.89 453.33,654.89 454.81,654.89 456.28,654.89 457.75,654.88 459.22,654.88 460.69,654.87 462.17,654.87 463.64,654.86 465.11,654.85 466.58,654.84 468.05,654.82 469.53,654.80 471.00,654.78 472.47,654.76 473.94,654.72 475.42,654.69 476.89,654.64 478.36,654.59 479.83,654.53 481.30,654.45 482.78,654.37 484.25,654.27 485.72,654.15 487.19,654.01 488.67,653.84 490.14,653.65 491.61,653.43 493.08,653.18 494.55,652.89 496.03,652.56 497.50,652.18 498.97,651.74 500.44,651.25 501.91,650.69 503.39,650.06 504.86,649.35 506.33,648.56 507.80,647.67 509.28,646.68 510.75,645.57 512.22,644.35 513.69,643.01 515.16,641.52 516.64,639.90 518.11,638.12 519.58,636.18 521.05,634.08 522.53,631.81 524.00,629.35 525.47,626.72 526.94,623.90 528.41,620.89 529.89,617.69 531.36,614.31 532.83,610.74 534.30,606.99 535.78,603.06 537.25,598.96 538.72,594.71 540.19,590.31 541.66,585.79 543.14,581.15 544.61,576.41 546.08,571.61 547.55,566.75 549.02,561.87 550.50,556.98 551.97,552.13 553.44,547.33 554.91,542.62 556.39,538.03 557.86,533.59 559.33,529.32 560.80,525.26 562.27,521.44 563.75,517.89 565.22,514.63 566.69,511.69 568.16,509.10 569.64,506.86 571.11,505.01 572.58,503.55 574.05,502.50 575.52,501.86 577.00,501.65 578.47,501.86 579.94,502.49 581.41,503.54 582.89,505.00 584.36,506.85 585.83,509.08 587.30,511.68 588.77,514.62 590.25,517.87 591.72,521.43 593.19,525.24 594.66,529.30 596.13,533.56 597.61,538.01 599.08,542.60 600.55,547.31 602.02,552.11 603.50,556.96 604.97,561.84 606.44,566.73 607.91,571.58 609.38,576.39 610.86,581.13 612.33,585.77 613.80,590.29 615.27,594.69 616.75,598.94 618.22,603.04 619.69,606.97 621.16,610.72 622.63,614.29 624.11,617.68 625.58,620.88 627.05,623.89 628.52,626.71 630.00,629.34 631.47,631.80 632.94,634.07 634.41,636.17 635.88,638.11 637.36,639.89 638.83,641.52 640.30,643.00 641.77,644.35 643.25,645.57 644.72,646.67 646.19,647.66 647.66,648.55 649.13,649.35 650.61,650.06 652.08,650.69 653.55,651.25 655.02,651.74 656.49,652.18 657.97,652.56 659.44,652.89 660.91,653.18 662.38,653.43 663.86,653.65 665.33,653.84 666.80,654.00" fill="none" stroke="#f62838" stroke-width="1.3"/>
<text x="430.20" y="494.50" class="ct" textLength="26.60" lengthAdjust="spacingAndGlyphs">IL-5</text>
<text x="460.60" y="494.50" class="ct" textLength="27.18" lengthAdjust="spacingAndGlyphs">CD4</text>
<text x="440.40" y="526.00" class="pv" textLength="53.35" lengthAdjust="spacingAndGlyphs">p-value 0.753</text>
<rect x="826.47" y="651.40" width="1.2" height="4.00" fill="#ba84b7"/>
<rect x="836.64" y="651.40" width="1.2" height="4.00" fill="#ba84b7"/>
<rect x="846.81" y="636.29" width="1.2" height="19.11" fill="#ba84b7"/>
<rect x="856.98" y="636.29" width="1.2" height="19.11" fill="#ba84b7"/>
<rect x="867.15" y="606.21" width="1.2" height="49.19" fill="#ba84b7"/>
<rect x="877.32" y="606.21" width="1.2" height="49.19" fill="#ba84b7"/>
<rect x="887.49" y="571.36" width="1.2" height="84.04" fill="#ba84b7"/>
<rect x="897.66" y="536.11" width="1.2" height="119.29" fill="#ba84b7"/>
<rect x="907.83" y="536.11" width="1.2" height="119.29" fill="#ba84b7"/>
<rect x="918.00" y="536.11" width="1.2" height="119.29" fill="#ba84b7"/>
<rect x="928.17" y="601.18" width="1.2" height="54.22" fill="#ba84b7"/>
<rect x="938.34" y="611.38" width="1.2" height="44.02" fill="#ba84b7"/>
<rect x="948.51" y="645.98" width="1.2" height="9.42" fill="#ba84b7"/>
<rect x="958.68" y="651.14" width="1.2" height="4.26" fill="#ba84b7"/>
<rect x="816.90" y="650.88" width="10.17" height="4.52" fill="#ae6fa9"/>
<rect x="827.07" y="651.40" width="10.17" height="4.00" fill="#c699c5"/>
<rect x="837.24" y="631.00" width="10.17" height="24.40" fill="#ae6fa9"/>
<rect x="847.41" y="636.29" width="10.17" height="19.11" fill="#c699c5"/>
<rect x="857.58" y="601.18" width="10.17" height="54.22" fill="#ae6fa9"/>
<rect x="867.75" y="606.21" width="10.17" height="49.19" fill="#c699c5"/>
<rect x="877.92" y="571.36" width="10.17" height="84.04" fill="#ae6fa9"/>
<rect x="888.09" y="536.11" width="10.17" height="119.29" fill="#c699c5"/>
<rect x="898.26" y="531.08" width="10.17" height="124.32" fill="#ae6fa9"/>
<rect x="908.43" y="536.11" width="10.17" height="119.29" fill="#c699c5"/>
<rect x="918.60" y="531.08" width="10.17" height="124.32" fill="#ae6fa9"/>
<rect x="928.77" y="601.18" width="10.17" height="54.22" fill="#c699c5"/>
<rect x="938.94" y="611.38" width="10.17" height="44.02" fill="#ae6fa9"/>
<rect x="949.11" y="645.98" width="10.17" height="9.42" fill="#c699c5"/>
<rect x="959.28" y="651.14" width="10.17" height="4.26" fill="#ae6fa9"/>
<path d="M765.65 500.48V659.70M765.65 655.40H999.10" stroke="#a7a9ac" stroke-width="1.1" fill="none"/>
<path d="M761.35 655.40H765.65" stroke="#a7a9ac" stroke-width="1.1"/>
<text x="757.85" y="658.40" text-anchor="end" class="tk">0</text>
<path d="M761.35 629.58H765.65" stroke="#a7a9ac" stroke-width="1.1"/>
<text x="757.85" y="632.58" text-anchor="end" class="tk">0.2</text>
<path d="M761.35 603.76H765.65" stroke="#a7a9ac" stroke-width="1.1"/>
<text x="757.85" y="606.76" text-anchor="end" class="tk">0.4</text>
<path d="M761.35 577.94H765.65" stroke="#a7a9ac" stroke-width="1.1"/>
<text x="757.85" y="580.94" text-anchor="end" class="tk">0.6</text>
<path d="M761.35 552.12H765.65" stroke="#a7a9ac" stroke-width="1.1"/>
<text x="757.85" y="555.12" text-anchor="end" class="tk">0.8</text>
<path d="M761.35 526.30H765.65" stroke="#a7a9ac" stroke-width="1.1"/>
<text x="757.85" y="529.30" text-anchor="end" class="tk">1</text>
<path d="M761.35 500.48H765.65" stroke="#a7a9ac" stroke-width="1.1"/>
<text x="757.85" y="503.48" text-anchor="end" class="tk">1.2</text>
<path d="M765.65 655.40V659.70" stroke="#a7a9ac" stroke-width="1.1"/>
<text x="764.85" y="670.60" text-anchor="middle" class="tk">-4</text>
<path d="M832.35 655.40V659.70" stroke="#a7a9ac" stroke-width="1.1"/>
<text x="831.55" y="670.60" text-anchor="middle" class="tk">-3</text>
<path d="M899.05 655.40V659.70" stroke="#a7a9ac" stroke-width="1.1"/>
<text x="898.25" y="670.60" text-anchor="middle" class="tk">-2</text>
<path d="M965.75 655.40V659.70" stroke="#a7a9ac" stroke-width="1.1"/>
<text x="964.95" y="670.60" text-anchor="middle" class="tk">-1</text>
<polyline points="765.65,655.40 767.11,655.40 768.57,655.40 770.03,655.40 771.49,655.40 772.95,655.40 774.40,655.40 775.86,655.40 777.32,655.40 778.78,655.40 780.24,655.39 781.70,655.39 783.16,655.39 784.62,655.39 786.08,655.39 787.54,655.38 789.00,655.38 790.45,655.37 791.91,655.36 793.37,655.36 794.83,655.34 796.29,655.33 797.75,655.32 799.21,655.30 800.67,655.27 802.13,655.24 803.59,655.21 805.04,655.17 806.50,655.12 807.96,655.06 809.42,655.00 810.88,654.92 812.34,654.82 813.80,654.71 815.26,654.58 816.72,654.43 818.18,654.25 819.64,654.04 821.09,653.80 822.55,653.53 824.01,653.21 825.47,652.85 826.93,652.44 828.39,651.97 829.85,651.43 831.31,650.83 832.77,650.15 834.23,649.39 835.68,648.54 837.14,647.59 838.60,646.54 840.06,645.37 841.52,644.08 842.98,642.66 844.44,641.11 845.90,639.41 847.36,637.56 848.82,635.56 850.28,633.40 851.73,631.08 853.19,628.59 854.65,625.93 856.11,623.10 857.57,620.10 859.03,616.93 860.49,613.60 861.95,610.12 863.41,606.49 864.87,602.73 866.33,598.84 867.78,594.84 869.24,590.74 870.70,586.57 872.16,582.35 873.62,578.09 875.08,573.82 876.54,569.57 878.00,565.35 879.46,561.21 880.92,557.17 882.38,553.25 883.83,549.48 885.29,545.89 886.75,542.51 888.21,539.37 889.67,536.49 891.13,533.89 892.59,531.60 894.05,529.63 895.51,528.00 896.97,526.73 898.42,525.82 899.88,525.29 901.34,525.14 902.80,525.37 904.26,525.97 905.72,526.95 907.18,528.29 908.64,529.99 910.10,532.02 911.56,534.38 913.02,537.03 914.47,539.97 915.93,543.16 917.39,546.58 918.85,550.20 920.31,554.00 921.77,557.95 923.23,562.02 924.69,566.17 926.15,570.40 927.61,574.65 929.07,578.92 930.52,583.18 931.98,587.39 933.44,591.55 934.90,595.63 936.36,599.61 937.82,603.47 939.28,607.21 940.74,610.82 942.20,614.27 943.66,617.56 945.11,620.70 946.57,623.66 948.03,626.46 949.49,629.09 950.95,631.55 952.41,633.84 953.87,635.97 955.33,637.94 956.79,639.75 958.25,641.42 959.71,642.95 961.16,644.34 962.62,645.61 964.08,646.75 965.54,647.78 967.00,648.71 968.46,649.55 969.92,650.29 971.38,650.96 972.84,651.54 974.30,652.06 975.75,652.52 977.21,652.92 978.67,653.28 980.13,653.58 981.59,653.85 983.05,654.08 984.51,654.28 985.97,654.46 987.43,654.61 988.89,654.73 990.35,654.84 991.80,654.93 993.26,655.01 994.72,655.08 996.18,655.13 997.64,655.18 999.10,655.22" fill="none" stroke="#f62838" stroke-width="1.3"/>
<text x="764.85" y="494.50" class="ct" textLength="34.95" lengthAdjust="spacingAndGlyphs">IL-17</text>
<text x="802.75" y="494.50" class="ct" textLength="27.47" lengthAdjust="spacingAndGlyphs">CD4</text>
<text x="774.90" y="526.00" class="pv" textLength="53.50" lengthAdjust="spacingAndGlyphs">p-value 0.721</text>
<rect x="42.4" y="295" width="2.2" height="14.3" fill="#9cc4e8"/>
<rect x="42.4" y="657" width="2.2" height="13" fill="#9cc4e8"/>
<text transform="rotate(-90)" x="-651.90" y="50.90" class="al" textLength="110.27" lengthAdjust="spacingAndGlyphs">FREQUENCY</text>
<text transform="rotate(-90)" x="-535.92" y="50.90" class="al" textLength="23.71" lengthAdjust="spacingAndGlyphs">OF</text>
<text transform="rotate(-90)" x="-505.98" y="50.90" class="al" textLength="45.29" lengthAdjust="spacingAndGlyphs">SPOT</text>
<text transform="rotate(-90)" x="-455.11" y="50.90" class="al" textLength="38.66" lengthAdjust="spacingAndGlyphs">SIZE</text>
<text transform="rotate(-90)" x="-409.92" y="50.90" class="al" textLength="97.90" lengthAdjust="spacingAndGlyphs">CATEGORY</text>
<rect x="94.25" y="693.9" width="346.4" height="2.2" fill="#9cc4e8"/>
<rect x="652.5" y="693.9" width="348.9" height="2.2" fill="#9cc4e8"/>
<text x="449.42" y="701.50" class="al" textLength="38.03" lengthAdjust="spacingAndGlyphs">LOG</text>
<text x="493.84" y="701.50" class="al" textLength="45.22" lengthAdjust="spacingAndGlyphs">SPOT</text>
<text x="544.71" y="701.50" class="al" textLength="38.45" lengthAdjust="spacingAndGlyphs">SIZE</text>
<text x="589.18" y="701.50" class="al" textLength="56.85" lengthAdjust="spacingAndGlyphs">(mm²)</text>
</svg></body></html>
